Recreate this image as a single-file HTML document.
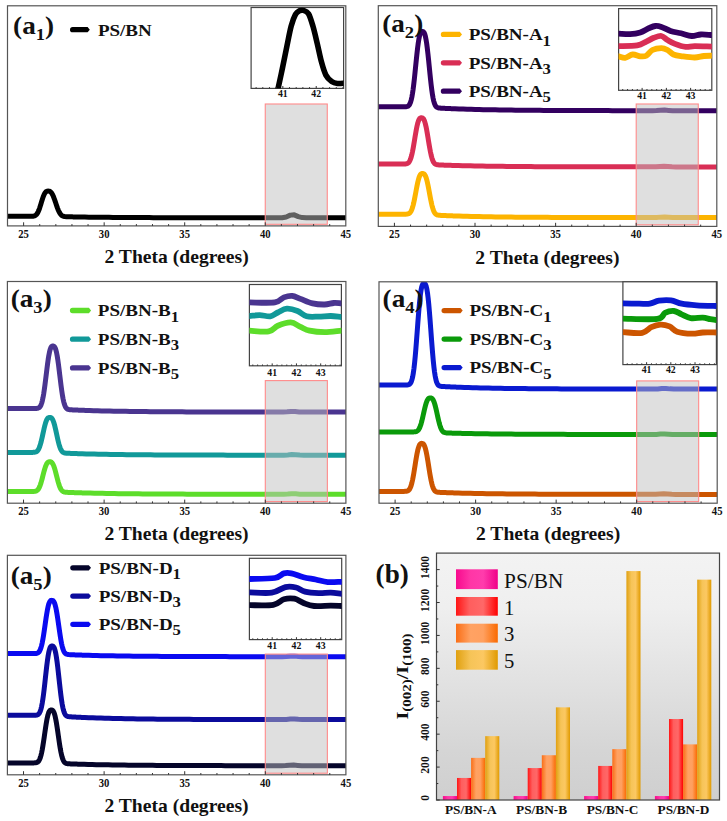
<!DOCTYPE html><html><head><meta charset="utf-8"><style>html,body{margin:0;padding:0;background:#fff;overflow:hidden;}svg{display:block;}text{font-family:"Liberation Serif", serif;fill:#111;}</style></head><body>
<svg width="727" height="821" viewBox="0 0 727 821">
<defs>
<linearGradient id="bgb" x1="0" y1="0" x2="0" y2="1"><stop offset="0" stop-color="#f3f3f3"/><stop offset="0.22" stop-color="#efefef"/><stop offset="0.8" stop-color="#d5d5d5"/><stop offset="1" stop-color="#cfcfcf"/></linearGradient>
<linearGradient id="gpink" x1="0" y1="0" x2="1" y2="0"><stop offset="0" stop-color="#f80a8e"/><stop offset="0.35" stop-color="#ff36a6"/><stop offset="0.65" stop-color="#ff3cac"/><stop offset="1" stop-color="#f00088"/></linearGradient>
<linearGradient id="gred" x1="0" y1="0" x2="1" y2="0"><stop offset="0" stop-color="#ff1515"/><stop offset="0.32" stop-color="#ff5e5e"/><stop offset="0.65" stop-color="#ff6868"/><stop offset="1" stop-color="#ff0000"/></linearGradient>
<linearGradient id="gorg" x1="0" y1="0" x2="1" y2="0"><stop offset="0" stop-color="#fa6e16"/><stop offset="0.35" stop-color="#ffa263"/><stop offset="0.65" stop-color="#ffa060"/><stop offset="1" stop-color="#fa6a00"/></linearGradient>
<linearGradient id="ggold" x1="0" y1="0" x2="1" y2="0"><stop offset="0" stop-color="#e0a010"/><stop offset="0.35" stop-color="#f6c458"/><stop offset="0.65" stop-color="#fcc862"/><stop offset="1" stop-color="#e09a00"/></linearGradient>
</defs>
<clipPath id="clip_a1"><rect x="7.50" y="5.80" width="338.30" height="220.10"/></clipPath>
<path clip-path="url(#clip_a1)" d="M4.28,216.30 L8.31,216.30 L12.33,216.30 L16.36,216.30 L17.00,216.30 L17.65,216.30 L18.29,216.30 L18.94,216.30 L19.58,216.30 L20.23,216.30 L20.87,216.30 L21.52,216.30 L22.16,216.30 L22.80,216.30 L23.45,216.30 L24.09,216.30 L24.74,216.30 L25.38,216.30 L26.03,216.30 L26.67,216.30 L27.31,216.30 L27.96,216.30 L28.60,216.30 L29.25,216.30 L29.89,216.30 L30.54,216.29 L31.18,216.28 L31.83,216.26 L32.47,216.23 L33.11,216.16 L33.76,216.06 L34.40,215.88 L35.05,215.61 L35.69,215.21 L36.34,214.64 L36.98,213.86 L37.62,212.85 L38.27,211.58 L38.91,210.05 L39.56,208.29 L40.20,206.33 L40.85,204.23 L41.49,202.09 L42.14,199.98 L42.78,197.98 L43.42,196.18 L44.07,194.62 L44.71,193.36 L45.36,192.41 L46.00,191.74 L46.65,191.34 L47.29,191.15 L47.93,191.10 L48.58,191.11 L49.22,191.19 L49.87,191.42 L50.51,191.83 L51.16,192.45 L51.80,193.31 L52.45,194.41 L53.09,195.74 L53.73,197.29 L54.38,199.02 L55.02,200.87 L55.67,202.79 L56.31,204.72 L56.96,206.60 L57.60,208.37 L58.24,209.99 L58.89,211.42 L59.53,212.65 L60.18,213.68 L60.82,214.50 L61.47,215.15 L62.11,215.64 L62.76,215.99 L63.40,216.25 L64.04,216.43 L64.69,216.55 L65.33,216.63 L65.98,216.69 L66.62,216.72 L67.27,216.75 L67.91,216.77 L68.56,216.79 L69.20,216.80 L69.84,216.82 L70.49,216.83 L71.13,216.84 L71.78,216.86 L72.42,216.87 L73.07,216.88 L73.71,216.89 L74.35,216.91 L75.00,216.92 L75.64,216.93 L76.29,216.94 L76.93,216.95 L77.58,216.96 L78.22,216.97 L78.87,216.98 L79.51,217.00 L80.15,217.01 L80.80,217.02 L84.83,217.08 L88.85,217.14 L92.88,217.19 L96.91,217.24 L100.94,217.28 L104.96,217.33 L108.99,217.36 L113.02,217.40 L117.04,217.43 L121.07,217.46 L125.10,217.49 L129.13,217.51 L133.15,217.53 L137.18,217.56 L141.21,217.58 L145.24,217.59 L149.26,217.61 L153.29,217.63 L157.32,217.64 L161.35,217.65 L165.37,217.66 L169.40,217.67 L173.43,217.68 L177.46,217.69 L181.48,217.70 L185.51,217.71 L189.54,217.72 L193.56,217.72 L197.59,217.73 L201.62,217.74 L205.65,217.74 L209.67,217.75 L213.70,217.75 L217.73,217.75 L221.76,217.76 L225.78,217.76 L229.81,217.76 L233.84,217.77 L237.87,217.77 L241.89,217.77 L245.92,217.77 L249.95,217.78 L253.98,217.78 L258.00,217.78 L262.03,217.78 L266.06,217.78 L270.09,217.78 L274.11,217.79 L278.14,217.78 L282.17,217.69 L286.19,216.92 L290.22,215.13 L294.25,214.84 L298.28,216.61 L302.30,217.62 L306.33,217.78 L310.36,217.79 L314.39,217.79 L318.41,217.79 L322.44,217.79 L326.47,217.80 L330.50,217.80 L334.52,217.80 L338.55,217.80 L342.58,217.80 L346.61,217.80 L350.63,217.80" fill="none" stroke="#000" stroke-width="5.0" stroke-linejoin="round"/>
<rect x="265.25" y="104.00" width="62.02" height="120.30" fill="rgb(192,192,192)" fill-opacity="0.5" stroke="#ff8a8a" stroke-width="1.1"/>
<rect x="7.50" y="5.80" width="338.30" height="220.10" fill="none" stroke="#555" stroke-width="1.2"/>
<line x1="23.61" y1="225.90" x2="23.61" y2="222.30" stroke="#333" stroke-width="1"/>
<line x1="39.72" y1="225.90" x2="39.72" y2="224.10" stroke="#333" stroke-width="1"/>
<line x1="55.83" y1="225.90" x2="55.83" y2="224.10" stroke="#333" stroke-width="1"/>
<line x1="71.94" y1="225.90" x2="71.94" y2="224.10" stroke="#333" stroke-width="1"/>
<line x1="88.05" y1="225.90" x2="88.05" y2="224.10" stroke="#333" stroke-width="1"/>
<line x1="104.16" y1="225.90" x2="104.16" y2="222.30" stroke="#333" stroke-width="1"/>
<line x1="120.27" y1="225.90" x2="120.27" y2="224.10" stroke="#333" stroke-width="1"/>
<line x1="136.38" y1="225.90" x2="136.38" y2="224.10" stroke="#333" stroke-width="1"/>
<line x1="152.49" y1="225.90" x2="152.49" y2="224.10" stroke="#333" stroke-width="1"/>
<line x1="168.60" y1="225.90" x2="168.60" y2="224.10" stroke="#333" stroke-width="1"/>
<line x1="184.70" y1="225.90" x2="184.70" y2="222.30" stroke="#333" stroke-width="1"/>
<line x1="200.81" y1="225.90" x2="200.81" y2="224.10" stroke="#333" stroke-width="1"/>
<line x1="216.92" y1="225.90" x2="216.92" y2="224.10" stroke="#333" stroke-width="1"/>
<line x1="233.03" y1="225.90" x2="233.03" y2="224.10" stroke="#333" stroke-width="1"/>
<line x1="249.14" y1="225.90" x2="249.14" y2="224.10" stroke="#333" stroke-width="1"/>
<line x1="265.25" y1="225.90" x2="265.25" y2="222.30" stroke="#333" stroke-width="1"/>
<line x1="281.36" y1="225.90" x2="281.36" y2="224.10" stroke="#333" stroke-width="1"/>
<line x1="297.47" y1="225.90" x2="297.47" y2="224.10" stroke="#333" stroke-width="1"/>
<line x1="313.58" y1="225.90" x2="313.58" y2="224.10" stroke="#333" stroke-width="1"/>
<line x1="329.69" y1="225.90" x2="329.69" y2="224.10" stroke="#333" stroke-width="1"/>
<text transform="translate(23.61,237.70) scale(0.920,1)" font-size="11.60" font-weight="bold" text-anchor="middle">25</text>
<text transform="translate(104.16,237.70) scale(0.920,1)" font-size="11.60" font-weight="bold" text-anchor="middle">30</text>
<text transform="translate(184.70,237.70) scale(0.920,1)" font-size="11.60" font-weight="bold" text-anchor="middle">35</text>
<text transform="translate(265.25,237.70) scale(0.920,1)" font-size="11.60" font-weight="bold" text-anchor="middle">40</text>
<text transform="translate(345.80,237.70) scale(0.920,1)" font-size="11.60" font-weight="bold" text-anchor="middle">45</text>
<text transform="translate(104.50,263.00) scale(1.055,1)" font-size="18.60" font-weight="bold">2 Theta (degrees)</text>
<text transform="translate(13.10,34.27) scale(1.050,1)" font-size="25.90" font-weight="bold">(a<tspan font-size="17.7" dy="5.8">1</tspan><tspan dy="-5.8">)</tspan></text>
<path d="M72.65,27.05 L87.60,27.05 L89.80,29.70 L87.60,32.35 L72.65,32.35 A2.65,2.65 0 0 1 72.65,27.05 Z" fill="#000"/>
<text transform="translate(97.88,35.50) scale(1.075,1)" font-size="17.70" font-weight="bold">PS/BN</text>
<rect x="251.10" y="7.50" width="92.50" height="80.90" fill="#fff" stroke="#444" stroke-width="1.2"/>
<clipPath id="c1"><rect x="251.10" y="7.50" width="92.50" height="80.90"/></clipPath>
<g clip-path="url(#c1)">
<path d="M276.50,95.00 C276.78,93.80 277.20,92.32 278.20,87.80 C279.20,83.28 281.05,74.83 282.50,67.90 C283.95,60.97 285.45,53.18 286.90,46.20 C288.35,39.22 289.77,31.30 291.20,26.00 C292.63,20.70 294.12,16.93 295.50,14.40 C296.88,11.87 298.17,11.47 299.50,10.80 C300.83,10.13 302.00,9.92 303.50,10.40 C305.00,10.88 306.93,11.10 308.50,13.70 C310.07,16.30 311.45,21.07 312.90,26.00 C314.35,30.93 315.77,37.28 317.20,43.30 C318.63,49.32 320.05,56.80 321.50,62.10 C322.95,67.40 324.20,71.85 325.90,75.10 C327.60,78.35 329.78,80.20 331.70,81.60 C333.62,83.00 335.18,83.27 337.40,83.50 C339.62,83.73 343.73,83.08 345.00,83.00" fill="none" stroke="#000" stroke-width="5.6" stroke-linejoin="round" stroke-linecap="round"/>
</g>
<line x1="256.11" y1="88.40" x2="256.11" y2="87.10" stroke="#333" stroke-width="1"/>
<line x1="262.79" y1="88.40" x2="262.79" y2="87.10" stroke="#333" stroke-width="1"/>
<line x1="269.47" y1="88.40" x2="269.47" y2="87.10" stroke="#333" stroke-width="1"/>
<line x1="276.15" y1="88.40" x2="276.15" y2="87.10" stroke="#333" stroke-width="1"/>
<line x1="282.83" y1="88.40" x2="282.83" y2="86.00" stroke="#333" stroke-width="1"/>
<line x1="289.51" y1="88.40" x2="289.51" y2="87.10" stroke="#333" stroke-width="1"/>
<line x1="296.19" y1="88.40" x2="296.19" y2="87.10" stroke="#333" stroke-width="1"/>
<line x1="302.87" y1="88.40" x2="302.87" y2="87.10" stroke="#333" stroke-width="1"/>
<line x1="309.55" y1="88.40" x2="309.55" y2="87.10" stroke="#333" stroke-width="1"/>
<line x1="316.23" y1="88.40" x2="316.23" y2="86.00" stroke="#333" stroke-width="1"/>
<line x1="322.91" y1="88.40" x2="322.91" y2="87.10" stroke="#333" stroke-width="1"/>
<line x1="329.59" y1="88.40" x2="329.59" y2="87.10" stroke="#333" stroke-width="1"/>
<line x1="336.27" y1="88.40" x2="336.27" y2="87.10" stroke="#333" stroke-width="1"/>
<line x1="342.95" y1="88.40" x2="342.95" y2="87.10" stroke="#333" stroke-width="1"/>
<text transform="translate(282.83,97.40) scale(0.950,1)" font-size="10.30" font-weight="bold" text-anchor="middle">41</text>
<text transform="translate(316.23,97.40) scale(0.950,1)" font-size="10.30" font-weight="bold" text-anchor="middle">42</text>
<clipPath id="clip_a2"><rect x="378.30" y="5.70" width="338.50" height="220.70"/></clipPath>
<path clip-path="url(#clip_a2)" d="M375.08,214.20 L379.11,214.20 L383.14,214.20 L387.17,214.20 L391.20,214.20 L391.84,214.20 L392.48,214.20 L393.13,214.20 L393.77,214.20 L394.42,214.20 L395.06,214.20 L395.71,214.20 L396.35,214.20 L397.00,214.20 L397.64,214.20 L398.29,214.20 L398.93,214.20 L399.58,214.20 L400.22,214.20 L400.87,214.20 L401.51,214.20 L402.16,214.20 L402.80,214.20 L403.45,214.20 L404.09,214.20 L404.74,214.19 L405.38,214.18 L406.02,214.16 L406.67,214.12 L407.31,214.04 L407.96,213.90 L408.60,213.68 L409.25,213.33 L409.89,212.79 L410.54,212.01 L411.18,210.92 L411.83,209.47 L412.47,207.62 L413.12,205.35 L413.76,202.67 L414.41,199.64 L415.05,196.33 L415.70,192.88 L416.34,189.40 L416.99,186.05 L417.63,182.95 L418.28,180.22 L418.92,177.93 L419.56,176.13 L420.21,174.82 L420.85,174.01 L421.50,173.59 L422.14,173.45 L422.79,173.48 L423.43,173.60 L424.08,173.95 L424.72,174.64 L425.37,175.76 L426.01,177.36 L426.66,179.44 L427.30,182.00 L427.95,184.97 L428.59,188.25 L429.24,191.71 L429.88,195.23 L430.53,198.67 L431.17,201.88 L431.82,204.78 L432.46,207.30 L433.10,209.39 L433.75,211.07 L434.39,212.37 L435.04,213.33 L435.68,214.01 L436.33,214.49 L436.97,214.80 L437.62,215.01 L438.26,215.14 L438.91,215.23 L439.55,215.29 L440.20,215.34 L440.84,215.38 L441.49,215.41 L442.13,215.44 L442.78,215.47 L443.42,215.50 L444.07,215.52 L444.71,215.55 L445.36,215.58 L446.00,215.61 L446.64,215.63 L447.29,215.66 L447.93,215.68 L448.58,215.71 L449.22,215.73 L449.87,215.76 L450.51,215.78 L451.16,215.81 L451.80,215.83 L452.45,215.85 L453.09,215.88 L453.74,215.90 L454.38,215.92 L455.03,215.95 L459.06,216.08 L463.09,216.20 L467.12,216.31 L471.15,216.41 L475.18,216.51 L479.21,216.60 L483.23,216.68 L487.26,216.75 L491.29,216.82 L495.32,216.88 L499.35,216.94 L503.38,216.99 L507.41,217.04 L511.44,217.08 L515.47,217.13 L519.50,217.16 L523.53,217.20 L527.56,217.23 L531.59,217.26 L535.62,217.29 L539.65,217.31 L543.68,217.34 L547.71,217.36 L551.74,217.38 L555.77,217.39 L559.80,217.41 L563.83,217.43 L567.86,217.44 L571.89,217.45 L575.92,217.46 L579.95,217.48 L583.98,217.49 L588.01,217.49 L592.04,217.50 L596.07,217.51 L600.10,217.52 L604.13,217.52 L608.16,217.53 L612.19,217.54 L616.22,217.54 L620.25,217.55 L624.28,217.55 L628.31,217.55 L632.34,217.56 L636.37,217.56 L640.40,217.56 L644.43,217.57 L648.46,217.57 L652.48,217.56 L656.51,217.45 L660.54,217.13 L664.57,217.00 L668.60,217.31 L672.63,217.54 L676.66,217.58 L680.69,217.58 L684.72,217.59 L688.75,217.59 L692.78,217.59 L696.81,217.59 L700.84,217.59 L704.87,217.59 L708.90,217.59 L712.93,217.59 L716.96,217.59 L720.99,217.59" fill="none" stroke="#fdb400" stroke-width="5.0" stroke-linejoin="round"/>
<path clip-path="url(#clip_a2)" d="M375.08,164.00 L379.11,164.00 L383.14,164.00 L387.17,164.00 L391.20,164.00 L391.84,164.00 L392.48,164.00 L393.13,164.00 L393.77,164.00 L394.42,164.00 L395.06,164.00 L395.71,164.00 L396.35,164.00 L397.00,164.00 L397.64,164.00 L398.29,164.00 L398.93,164.00 L399.58,164.00 L400.22,164.00 L400.87,164.00 L401.51,164.00 L402.16,164.00 L402.80,164.00 L403.45,163.99 L404.09,163.98 L404.74,163.96 L405.38,163.92 L406.02,163.84 L406.67,163.71 L407.31,163.49 L407.96,163.13 L408.60,162.58 L409.25,161.77 L409.89,160.63 L410.54,159.10 L411.18,157.12 L411.83,154.67 L412.47,151.75 L413.12,148.41 L413.76,144.73 L414.41,140.85 L415.05,136.91 L415.70,133.06 L416.34,129.47 L416.99,126.27 L417.63,123.54 L418.28,121.37 L418.92,119.74 L419.56,118.65 L420.21,118.02 L420.85,117.79 L421.50,117.78 L422.14,117.86 L422.79,118.17 L423.43,118.84 L424.08,119.97 L424.72,121.62 L425.37,123.84 L426.01,126.59 L426.66,129.83 L427.30,133.46 L427.95,137.34 L428.59,141.31 L429.24,145.23 L429.88,148.93 L430.53,152.30 L431.17,155.25 L431.82,157.74 L432.46,159.75 L433.10,161.31 L433.75,162.48 L434.39,163.31 L435.04,163.89 L435.68,164.28 L436.33,164.53 L436.97,164.69 L437.62,164.80 L438.26,164.86 L438.91,164.91 L439.55,164.95 L440.20,164.98 L440.84,165.01 L441.49,165.03 L442.13,165.06 L442.78,165.08 L443.42,165.11 L444.07,165.13 L444.71,165.15 L445.36,165.18 L446.00,165.20 L446.64,165.22 L447.29,165.24 L447.93,165.27 L448.58,165.29 L449.22,165.31 L449.87,165.33 L450.51,165.35 L451.16,165.37 L451.80,165.39 L452.45,165.41 L453.09,165.43 L453.74,165.45 L454.38,165.47 L458.41,165.58 L462.44,165.69 L466.47,165.79 L470.50,165.87 L474.53,165.96 L478.56,166.03 L482.59,166.10 L486.62,166.17 L490.65,166.22 L494.68,166.28 L498.71,166.33 L502.74,166.37 L506.77,166.42 L510.80,166.45 L514.83,166.49 L518.86,166.52 L522.89,166.55 L526.92,166.58 L530.95,166.61 L534.98,166.63 L539.01,166.65 L543.04,166.67 L547.07,166.69 L551.10,166.71 L555.13,166.72 L559.16,166.74 L563.19,166.75 L567.22,166.76 L571.24,166.77 L575.27,166.78 L579.30,166.79 L583.33,166.80 L587.36,166.81 L591.39,166.82 L595.42,166.82 L599.45,166.83 L603.48,166.83 L607.51,166.84 L611.54,166.84 L615.57,166.85 L619.60,166.85 L623.63,166.86 L627.66,166.86 L631.69,166.86 L635.72,166.87 L639.75,166.87 L643.78,166.87 L647.81,166.87 L651.84,166.87 L655.87,166.79 L659.90,166.49 L663.93,166.28 L667.96,166.55 L671.99,166.82 L676.02,166.88 L680.05,166.89 L684.08,166.89 L688.11,166.89 L692.14,166.89 L696.17,166.89 L700.20,166.89 L704.23,166.89 L708.26,166.89 L712.29,166.89 L716.32,166.89 L720.35,166.89" fill="none" stroke="#d92e55" stroke-width="5.0" stroke-linejoin="round"/>
<path clip-path="url(#clip_a2)" d="M375.08,106.80 L379.11,106.80 L383.14,106.80 L387.17,106.80 L391.20,106.80 L391.84,106.80 L392.48,106.80 L393.13,106.80 L393.77,106.80 L394.42,106.80 L395.06,106.80 L395.71,106.80 L396.35,106.80 L397.00,106.80 L397.64,106.80 L398.29,106.80 L398.93,106.80 L399.58,106.80 L400.22,106.80 L400.87,106.80 L401.51,106.80 L402.16,106.80 L402.80,106.80 L403.45,106.80 L404.09,106.79 L404.74,106.78 L405.38,106.76 L406.02,106.71 L406.67,106.62 L407.31,106.45 L407.96,106.17 L408.60,105.70 L409.25,104.97 L409.89,103.88 L410.54,102.31 L411.18,100.14 L411.83,97.29 L412.47,93.68 L413.12,89.29 L413.76,84.17 L414.41,78.43 L415.05,72.24 L415.70,65.83 L416.34,59.45 L416.99,53.36 L417.63,47.79 L418.28,42.94 L418.92,38.94 L419.56,35.84 L420.21,33.64 L420.85,32.30 L421.50,31.64 L422.14,31.47 L422.79,31.51 L423.43,31.79 L424.08,32.55 L424.72,33.99 L425.37,36.24 L426.01,39.38 L426.66,43.43 L427.30,48.32 L427.95,53.93 L428.59,60.07 L429.24,66.50 L429.88,72.95 L430.53,79.18 L431.17,84.96 L431.82,90.12 L432.46,94.55 L433.10,98.20 L433.75,101.09 L434.39,103.30 L435.04,104.91 L435.68,106.04 L436.33,106.81 L436.97,107.31 L437.62,107.63 L438.26,107.83 L438.91,107.96 L439.55,108.04 L440.20,108.10 L440.84,108.15 L441.49,108.18 L442.13,108.22 L442.78,108.25 L443.42,108.29 L444.07,108.32 L444.71,108.35 L445.36,108.38 L446.00,108.41 L446.64,108.44 L447.29,108.47 L447.93,108.50 L448.58,108.53 L449.22,108.56 L449.87,108.59 L450.51,108.62 L451.16,108.64 L451.80,108.67 L452.45,108.70 L453.09,108.72 L453.74,108.75 L454.38,108.78 L455.03,108.80 L459.06,108.95 L463.09,109.09 L467.12,109.22 L471.15,109.34 L475.18,109.45 L479.21,109.55 L483.23,109.64 L487.26,109.73 L491.29,109.80 L495.32,109.87 L499.35,109.94 L503.38,110.00 L507.41,110.06 L511.44,110.11 L515.47,110.16 L519.50,110.20 L523.53,110.24 L527.56,110.28 L531.59,110.31 L535.62,110.34 L539.65,110.37 L543.68,110.40 L547.71,110.42 L551.74,110.44 L555.77,110.46 L559.80,110.48 L563.83,110.50 L567.86,110.52 L571.89,110.53 L575.92,110.54 L579.95,110.56 L583.98,110.57 L588.01,110.58 L592.04,110.59 L596.07,110.60 L600.10,110.61 L604.13,110.61 L608.16,110.62 L612.19,110.63 L616.22,110.63 L620.25,110.64 L624.28,110.64 L628.31,110.65 L632.34,110.65 L636.37,110.66 L640.40,110.66 L644.43,110.66 L648.46,110.66 L652.48,110.66 L656.51,110.55 L660.54,110.23 L664.57,110.09 L668.60,110.40 L672.63,110.63 L676.66,110.68 L680.69,110.68 L684.72,110.68 L688.75,110.68 L692.78,110.69 L696.81,110.69 L700.84,110.69 L704.87,110.69 L708.90,110.69 L712.93,110.69 L716.96,110.69 L720.99,110.69" fill="none" stroke="#330060" stroke-width="5.0" stroke-linejoin="round"/>
<rect x="636.20" y="104.00" width="62.06" height="120.80" fill="rgb(192,192,192)" fill-opacity="0.5" stroke="#ff8a8a" stroke-width="1.1"/>
<rect x="378.30" y="5.70" width="338.50" height="220.70" fill="none" stroke="#555" stroke-width="1.2"/>
<line x1="394.42" y1="226.40" x2="394.42" y2="222.80" stroke="#333" stroke-width="1"/>
<line x1="410.54" y1="226.40" x2="410.54" y2="224.60" stroke="#333" stroke-width="1"/>
<line x1="426.66" y1="226.40" x2="426.66" y2="224.60" stroke="#333" stroke-width="1"/>
<line x1="442.78" y1="226.40" x2="442.78" y2="224.60" stroke="#333" stroke-width="1"/>
<line x1="458.90" y1="226.40" x2="458.90" y2="224.60" stroke="#333" stroke-width="1"/>
<line x1="475.01" y1="226.40" x2="475.01" y2="222.80" stroke="#333" stroke-width="1"/>
<line x1="491.13" y1="226.40" x2="491.13" y2="224.60" stroke="#333" stroke-width="1"/>
<line x1="507.25" y1="226.40" x2="507.25" y2="224.60" stroke="#333" stroke-width="1"/>
<line x1="523.37" y1="226.40" x2="523.37" y2="224.60" stroke="#333" stroke-width="1"/>
<line x1="539.49" y1="226.40" x2="539.49" y2="224.60" stroke="#333" stroke-width="1"/>
<line x1="555.61" y1="226.40" x2="555.61" y2="222.80" stroke="#333" stroke-width="1"/>
<line x1="571.73" y1="226.40" x2="571.73" y2="224.60" stroke="#333" stroke-width="1"/>
<line x1="587.85" y1="226.40" x2="587.85" y2="224.60" stroke="#333" stroke-width="1"/>
<line x1="603.97" y1="226.40" x2="603.97" y2="224.60" stroke="#333" stroke-width="1"/>
<line x1="620.09" y1="226.40" x2="620.09" y2="224.60" stroke="#333" stroke-width="1"/>
<line x1="636.20" y1="226.40" x2="636.20" y2="222.80" stroke="#333" stroke-width="1"/>
<line x1="652.32" y1="226.40" x2="652.32" y2="224.60" stroke="#333" stroke-width="1"/>
<line x1="668.44" y1="226.40" x2="668.44" y2="224.60" stroke="#333" stroke-width="1"/>
<line x1="684.56" y1="226.40" x2="684.56" y2="224.60" stroke="#333" stroke-width="1"/>
<line x1="700.68" y1="226.40" x2="700.68" y2="224.60" stroke="#333" stroke-width="1"/>
<text transform="translate(394.42,238.20) scale(0.920,1)" font-size="11.60" font-weight="bold" text-anchor="middle">25</text>
<text transform="translate(475.01,238.20) scale(0.920,1)" font-size="11.60" font-weight="bold" text-anchor="middle">30</text>
<text transform="translate(555.61,238.20) scale(0.920,1)" font-size="11.60" font-weight="bold" text-anchor="middle">35</text>
<text transform="translate(636.20,238.20) scale(0.920,1)" font-size="11.60" font-weight="bold" text-anchor="middle">40</text>
<text transform="translate(716.80,238.20) scale(0.920,1)" font-size="11.60" font-weight="bold" text-anchor="middle">45</text>
<text transform="translate(475.30,263.50) scale(1.055,1)" font-size="18.60" font-weight="bold">2 Theta (degrees)</text>
<text transform="translate(382.20,32.07) scale(1.050,1)" font-size="25.90" font-weight="bold">(a<tspan font-size="17.7" dy="5.8">2</tspan><tspan dy="-5.8">)</tspan></text>
<path d="M443.45,31.75 L459.80,31.75 L462.00,34.40 L459.80,37.05 L443.45,37.05 A2.65,2.65 0 0 1 443.45,31.75 Z" fill="#fdb400"/>
<text transform="translate(468.68,40.20) scale(1.075,1)" font-size="17.70" font-weight="bold">PS/BN-A<tspan font-size="15.5" dy="5.3">1</tspan></text>
<path d="M443.45,60.15 L459.80,60.15 L462.00,62.80 L459.80,65.45 L443.45,65.45 A2.65,2.65 0 0 1 443.45,60.15 Z" fill="#d92e55"/>
<text transform="translate(468.68,68.60) scale(1.075,1)" font-size="17.70" font-weight="bold">PS/BN-A<tspan font-size="15.5" dy="5.3">3</tspan></text>
<path d="M443.45,88.55 L459.80,88.55 L462.00,91.20 L459.80,93.85 L443.45,93.85 A2.65,2.65 0 0 1 443.45,88.55 Z" fill="#330060"/>
<text transform="translate(468.68,97.00) scale(1.075,1)" font-size="17.70" font-weight="bold">PS/BN-A<tspan font-size="15.5" dy="5.3">5</tspan></text>
<rect x="618.60" y="8.60" width="93.20" height="81.70" fill="#fff" stroke="#444" stroke-width="1.2"/>
<clipPath id="c2"><rect x="618.60" y="8.60" width="93.20" height="81.70"/></clipPath>
<g clip-path="url(#c2)">
<path d="M615.00,56.30 C615.60,56.30 616.92,56.05 618.60,56.30 C620.28,56.55 622.75,58.10 625.10,57.80 C627.45,57.50 630.17,54.75 632.70,54.50 C635.23,54.25 638.03,56.10 640.30,56.30 C642.57,56.50 644.28,56.75 646.30,55.70 C648.32,54.65 649.88,51.27 652.40,50.00 C654.92,48.73 658.88,48.10 661.40,48.10 C663.92,48.10 665.48,48.93 667.50,50.00 C669.52,51.07 670.98,53.45 673.50,54.50 C676.02,55.55 679.07,55.80 682.60,56.30 C686.13,56.80 691.17,57.55 694.70,57.50 C698.23,57.45 700.95,56.30 703.80,56.00 C706.65,55.70 709.93,55.75 711.80,55.70 C713.67,55.65 714.47,55.70 715.00,55.70" fill="none" stroke="#fdb400" stroke-width="5.8" stroke-linejoin="round" stroke-linecap="round"/>
<path d="M615.00,46.10 C615.60,46.10 614.90,46.22 618.60,46.10 C622.30,45.98 632.58,46.15 637.20,45.40 C641.82,44.65 643.52,42.87 646.30,41.60 C649.08,40.33 651.38,38.73 653.90,37.80 C656.42,36.87 659.13,35.63 661.40,36.00 C663.67,36.37 665.23,38.68 667.50,40.00 C669.77,41.32 671.98,42.75 675.00,43.90 C678.02,45.05 682.32,46.53 685.60,46.90 C688.88,47.27 690.33,46.15 694.70,46.10 C699.07,46.05 708.42,46.52 711.80,46.60 C715.18,46.68 714.47,46.60 715.00,46.60" fill="none" stroke="#d92e55" stroke-width="5.8" stroke-linejoin="round" stroke-linecap="round"/>
<path d="M615.00,33.60 C615.60,33.60 616.10,33.50 618.60,33.60 C621.10,33.70 626.38,34.38 630.00,34.20 C633.62,34.02 637.08,33.53 640.30,32.50 C643.52,31.47 646.78,29.08 649.30,28.00 C651.82,26.92 653.38,26.18 655.40,26.00 C657.42,25.82 658.88,26.07 661.40,26.90 C663.92,27.73 667.23,29.93 670.50,31.00 C673.77,32.07 677.47,32.47 681.00,33.30 C684.53,34.13 688.40,35.80 691.70,36.00 C695.00,36.20 697.45,34.67 700.80,34.50 C704.15,34.33 709.43,34.92 711.80,35.00 C714.17,35.08 714.47,35.00 715.00,35.00" fill="none" stroke="#330060" stroke-width="5.8" stroke-linejoin="round" stroke-linecap="round"/>
</g>
<line x1="622.72" y1="90.30" x2="622.72" y2="89.00" stroke="#333" stroke-width="1"/>
<line x1="627.57" y1="90.30" x2="627.57" y2="89.00" stroke="#333" stroke-width="1"/>
<line x1="632.42" y1="90.30" x2="632.42" y2="89.00" stroke="#333" stroke-width="1"/>
<line x1="637.27" y1="90.30" x2="637.27" y2="89.00" stroke="#333" stroke-width="1"/>
<line x1="642.12" y1="90.30" x2="642.12" y2="87.90" stroke="#333" stroke-width="1"/>
<line x1="646.97" y1="90.30" x2="646.97" y2="89.00" stroke="#333" stroke-width="1"/>
<line x1="651.82" y1="90.30" x2="651.82" y2="89.00" stroke="#333" stroke-width="1"/>
<line x1="656.67" y1="90.30" x2="656.67" y2="89.00" stroke="#333" stroke-width="1"/>
<line x1="661.52" y1="90.30" x2="661.52" y2="89.00" stroke="#333" stroke-width="1"/>
<line x1="666.37" y1="90.30" x2="666.37" y2="87.90" stroke="#333" stroke-width="1"/>
<line x1="671.22" y1="90.30" x2="671.22" y2="89.00" stroke="#333" stroke-width="1"/>
<line x1="676.07" y1="90.30" x2="676.07" y2="89.00" stroke="#333" stroke-width="1"/>
<line x1="680.92" y1="90.30" x2="680.92" y2="89.00" stroke="#333" stroke-width="1"/>
<line x1="685.77" y1="90.30" x2="685.77" y2="89.00" stroke="#333" stroke-width="1"/>
<line x1="690.62" y1="90.30" x2="690.62" y2="87.90" stroke="#333" stroke-width="1"/>
<line x1="695.47" y1="90.30" x2="695.47" y2="89.00" stroke="#333" stroke-width="1"/>
<line x1="700.32" y1="90.30" x2="700.32" y2="89.00" stroke="#333" stroke-width="1"/>
<line x1="705.17" y1="90.30" x2="705.17" y2="89.00" stroke="#333" stroke-width="1"/>
<line x1="710.02" y1="90.30" x2="710.02" y2="89.00" stroke="#333" stroke-width="1"/>
<text transform="translate(642.12,99.10) scale(0.950,1)" font-size="10.30" font-weight="bold" text-anchor="middle">41</text>
<text transform="translate(666.37,99.10) scale(0.950,1)" font-size="10.30" font-weight="bold" text-anchor="middle">42</text>
<text transform="translate(690.62,99.10) scale(0.950,1)" font-size="10.30" font-weight="bold" text-anchor="middle">43</text>
<clipPath id="clip_a3"><rect x="7.40" y="281.50" width="338.50" height="221.70"/></clipPath>
<path clip-path="url(#clip_a3)" d="M4.18,491.50 L8.21,491.50 L12.24,491.50 L16.27,491.50 L20.30,491.50 L20.94,491.50 L21.58,491.50 L22.23,491.50 L22.87,491.50 L23.52,491.50 L24.16,491.50 L24.81,491.50 L25.45,491.50 L26.10,491.50 L26.74,491.50 L27.39,491.50 L28.03,491.50 L28.68,491.50 L29.32,491.50 L29.97,491.50 L30.61,491.50 L31.26,491.50 L31.90,491.49 L32.55,491.49 L33.19,491.47 L33.84,491.44 L34.48,491.38 L35.12,491.28 L35.77,491.12 L36.41,490.86 L37.06,490.47 L37.70,489.90 L38.35,489.11 L38.99,488.05 L39.64,486.70 L40.28,485.05 L40.93,483.10 L41.57,480.89 L42.22,478.48 L42.86,475.97 L43.51,473.43 L44.15,470.99 L44.80,468.73 L45.44,466.74 L46.09,465.08 L46.73,463.76 L47.38,462.81 L48.02,462.19 L48.66,461.84 L49.31,461.71 L49.95,461.74 L50.60,461.83 L51.24,462.09 L51.89,462.60 L52.53,463.42 L53.18,464.59 L53.82,466.12 L54.47,467.98 L55.11,470.15 L55.76,472.54 L56.40,475.08 L57.05,477.65 L57.69,480.15 L58.34,482.50 L58.98,484.62 L59.63,486.45 L60.27,487.99 L60.92,489.21 L61.56,490.16 L62.20,490.87 L62.85,491.37 L63.49,491.72 L64.14,491.95 L64.78,492.11 L65.43,492.21 L66.07,492.28 L66.72,492.33 L67.36,492.36 L68.01,492.39 L68.65,492.42 L69.30,492.45 L69.94,492.47 L70.59,492.50 L71.23,492.52 L71.88,492.54 L72.52,492.57 L73.17,492.59 L73.81,492.61 L74.46,492.64 L75.10,492.66 L75.74,492.68 L76.39,492.70 L77.03,492.72 L77.68,492.74 L78.32,492.76 L78.97,492.78 L79.61,492.80 L80.26,492.82 L80.90,492.84 L81.55,492.86 L82.19,492.88 L86.22,492.99 L90.25,493.10 L94.28,493.20 L98.31,493.28 L102.34,493.36 L106.37,493.44 L110.40,493.51 L114.43,493.57 L118.46,493.63 L122.49,493.68 L126.52,493.73 L130.55,493.78 L134.58,493.82 L138.61,493.86 L142.64,493.89 L146.67,493.93 L150.70,493.96 L154.73,493.98 L158.76,494.01 L162.79,494.03 L166.82,494.05 L170.85,494.07 L174.88,494.09 L178.91,494.11 L182.94,494.12 L186.97,494.14 L191.00,494.15 L195.03,494.16 L199.06,494.17 L203.09,494.18 L207.11,494.19 L211.14,494.20 L215.17,494.21 L219.20,494.22 L223.23,494.22 L227.26,494.23 L231.29,494.24 L235.32,494.24 L239.35,494.24 L243.38,494.25 L247.41,494.25 L251.44,494.26 L255.47,494.26 L259.50,494.26 L263.53,494.27 L267.56,494.27 L271.59,494.27 L275.62,494.27 L279.65,494.27 L283.68,494.23 L287.71,494.01 L291.74,493.70 L295.77,493.84 L299.80,494.16 L303.83,494.27 L307.86,494.29 L311.89,494.29 L315.92,494.29 L319.95,494.29 L323.98,494.29 L328.01,494.29 L332.04,494.29 L336.07,494.29 L340.10,494.29 L344.13,494.29 L348.16,494.29" fill="none" stroke="#5ddd2a" stroke-width="5.0" stroke-linejoin="round"/>
<path clip-path="url(#clip_a3)" d="M4.18,452.40 L8.21,452.40 L12.24,452.40 L16.27,452.40 L20.30,452.40 L20.94,452.40 L21.58,452.40 L22.23,452.40 L22.87,452.40 L23.52,452.40 L24.16,452.40 L24.81,452.40 L25.45,452.40 L26.10,452.40 L26.74,452.40 L27.39,452.40 L28.03,452.40 L28.68,452.40 L29.32,452.40 L29.97,452.40 L30.61,452.40 L31.26,452.40 L31.90,452.39 L32.55,452.38 L33.19,452.36 L33.84,452.33 L34.48,452.26 L35.12,452.15 L35.77,451.96 L36.41,451.65 L37.06,451.19 L37.70,450.52 L38.35,449.59 L38.99,448.35 L39.64,446.77 L40.28,444.82 L40.93,442.53 L41.57,439.94 L42.22,437.11 L42.86,434.15 L43.51,431.18 L44.15,428.31 L44.80,425.66 L45.44,423.32 L46.09,421.37 L46.73,419.82 L47.38,418.70 L48.02,417.97 L48.66,417.57 L49.31,417.42 L49.95,417.44 L50.60,417.54 L51.24,417.84 L51.89,418.44 L52.53,419.39 L53.18,420.76 L53.82,422.54 L54.47,424.73 L55.11,427.27 L55.76,430.08 L56.40,433.04 L57.05,436.06 L57.69,438.99 L58.34,441.75 L58.98,444.23 L59.63,446.38 L60.27,448.17 L60.92,449.61 L61.56,450.72 L62.20,451.54 L62.85,452.13 L63.49,452.53 L64.14,452.80 L64.78,452.98 L65.43,453.09 L66.07,453.17 L66.72,453.22 L67.36,453.26 L68.01,453.29 L68.65,453.32 L69.30,453.35 L69.94,453.37 L70.59,453.40 L71.23,453.42 L71.88,453.44 L72.52,453.47 L73.17,453.49 L73.81,453.51 L74.46,453.54 L75.10,453.56 L75.74,453.58 L76.39,453.60 L77.03,453.62 L77.68,453.64 L78.32,453.66 L78.97,453.68 L79.61,453.70 L80.26,453.72 L80.90,453.74 L81.55,453.76 L82.19,453.78 L86.22,453.89 L90.25,454.00 L94.28,454.10 L98.31,454.18 L102.34,454.26 L106.37,454.34 L110.40,454.41 L114.43,454.47 L118.46,454.53 L122.49,454.58 L126.52,454.63 L130.55,454.68 L134.58,454.72 L138.61,454.76 L142.64,454.79 L146.67,454.83 L150.70,454.86 L154.73,454.88 L158.76,454.91 L162.79,454.93 L166.82,454.95 L170.85,454.97 L174.88,454.99 L178.91,455.01 L182.94,455.02 L186.97,455.04 L191.00,455.05 L195.03,455.06 L199.06,455.07 L203.09,455.08 L207.11,455.09 L211.14,455.10 L215.17,455.11 L219.20,455.12 L223.23,455.12 L227.26,455.13 L231.29,455.14 L235.32,455.14 L239.35,455.14 L243.38,455.15 L247.41,455.15 L251.44,455.16 L255.47,455.16 L259.50,455.16 L263.53,455.17 L267.56,455.17 L271.59,455.17 L275.62,455.17 L279.65,455.17 L283.68,455.13 L287.71,454.91 L291.74,454.60 L295.77,454.74 L299.80,455.06 L303.83,455.17 L307.86,455.19 L311.89,455.19 L315.92,455.19 L319.95,455.19 L323.98,455.19 L328.01,455.19 L332.04,455.19 L336.07,455.19 L340.10,455.19 L344.13,455.19 L348.16,455.19" fill="none" stroke="#119999" stroke-width="5.0" stroke-linejoin="round"/>
<path clip-path="url(#clip_a3)" d="M4.18,408.50 L8.21,408.50 L12.24,408.50 L16.27,408.50 L20.30,408.50 L24.33,408.50 L24.97,408.50 L25.61,408.50 L26.26,408.50 L26.90,408.50 L27.55,408.50 L28.19,408.50 L28.84,408.50 L29.48,408.50 L30.13,408.50 L30.77,408.50 L31.42,408.50 L32.06,408.50 L32.71,408.50 L33.35,408.50 L34.00,408.50 L34.64,408.49 L35.29,408.48 L35.93,408.46 L36.58,408.42 L37.22,408.35 L37.86,408.21 L38.51,407.98 L39.15,407.59 L39.80,406.98 L40.44,406.07 L41.09,404.77 L41.73,402.97 L42.38,400.60 L43.02,397.60 L43.67,393.96 L44.31,389.71 L44.96,384.94 L45.60,379.80 L46.25,374.48 L46.89,369.18 L47.54,364.12 L48.18,359.50 L48.83,355.47 L49.47,352.16 L50.12,349.63 L50.76,347.85 L51.40,346.74 L52.05,346.20 L52.69,346.05 L53.34,346.10 L53.98,346.33 L54.63,346.97 L55.27,348.16 L55.92,350.03 L56.56,352.65 L57.21,356.01 L57.85,360.08 L58.50,364.74 L59.14,369.84 L59.79,375.18 L60.43,380.54 L61.08,385.72 L61.72,390.52 L62.37,394.81 L63.01,398.49 L63.66,401.52 L64.30,403.93 L64.94,405.76 L65.59,407.10 L66.23,408.05 L66.88,408.69 L67.52,409.11 L68.17,409.37 L68.81,409.54 L69.46,409.65 L70.10,409.72 L70.75,409.77 L71.39,409.81 L72.04,409.85 L72.68,409.88 L73.33,409.91 L73.97,409.94 L74.62,409.97 L75.26,410.00 L75.91,410.02 L76.55,410.05 L77.20,410.08 L77.84,410.10 L78.48,410.13 L79.13,410.16 L79.77,410.18 L80.42,410.21 L81.06,410.23 L81.71,410.26 L82.35,410.28 L83.00,410.31 L83.64,410.33 L84.29,410.35 L84.93,410.38 L85.58,410.40 L89.61,410.54 L93.64,410.66 L97.67,410.78 L101.70,410.88 L105.73,410.98 L109.76,411.07 L113.79,411.15 L117.82,411.23 L121.85,411.30 L125.87,411.36 L129.90,411.42 L133.93,411.47 L137.96,411.52 L141.99,411.57 L146.02,411.61 L150.05,411.65 L154.08,411.69 L158.11,411.72 L162.14,411.75 L166.17,411.78 L170.20,411.80 L174.23,411.83 L178.26,411.85 L182.29,411.87 L186.32,411.89 L190.35,411.91 L194.38,411.92 L198.41,411.94 L202.44,411.95 L206.47,411.96 L210.50,411.97 L214.53,411.98 L218.56,411.99 L222.59,412.00 L226.62,412.01 L230.65,412.02 L234.68,412.02 L238.71,412.03 L242.74,412.03 L246.77,412.04 L250.80,412.04 L254.83,412.05 L258.86,412.05 L262.89,412.06 L266.92,412.06 L270.95,412.06 L274.98,412.07 L279.01,412.07 L283.04,412.04 L287.07,411.85 L291.10,411.52 L295.12,411.58 L299.15,411.92 L303.18,412.06 L307.21,412.08 L311.24,412.08 L315.27,412.09 L319.30,412.09 L323.33,412.09 L327.36,412.09 L331.39,412.09 L335.42,412.09 L339.45,412.09 L343.48,412.09 L347.51,412.09" fill="none" stroke="#4a3590" stroke-width="5.0" stroke-linejoin="round"/>
<rect x="265.30" y="380.60" width="62.06" height="121.00" fill="rgb(192,192,192)" fill-opacity="0.5" stroke="#ff8a8a" stroke-width="1.1"/>
<rect x="7.40" y="281.50" width="338.50" height="221.70" fill="none" stroke="#555" stroke-width="1.2"/>
<line x1="23.52" y1="503.20" x2="23.52" y2="499.60" stroke="#333" stroke-width="1"/>
<line x1="39.64" y1="503.20" x2="39.64" y2="501.40" stroke="#333" stroke-width="1"/>
<line x1="55.76" y1="503.20" x2="55.76" y2="501.40" stroke="#333" stroke-width="1"/>
<line x1="71.88" y1="503.20" x2="71.88" y2="501.40" stroke="#333" stroke-width="1"/>
<line x1="88.00" y1="503.20" x2="88.00" y2="501.40" stroke="#333" stroke-width="1"/>
<line x1="104.11" y1="503.20" x2="104.11" y2="499.60" stroke="#333" stroke-width="1"/>
<line x1="120.23" y1="503.20" x2="120.23" y2="501.40" stroke="#333" stroke-width="1"/>
<line x1="136.35" y1="503.20" x2="136.35" y2="501.40" stroke="#333" stroke-width="1"/>
<line x1="152.47" y1="503.20" x2="152.47" y2="501.40" stroke="#333" stroke-width="1"/>
<line x1="168.59" y1="503.20" x2="168.59" y2="501.40" stroke="#333" stroke-width="1"/>
<line x1="184.71" y1="503.20" x2="184.71" y2="499.60" stroke="#333" stroke-width="1"/>
<line x1="200.83" y1="503.20" x2="200.83" y2="501.40" stroke="#333" stroke-width="1"/>
<line x1="216.95" y1="503.20" x2="216.95" y2="501.40" stroke="#333" stroke-width="1"/>
<line x1="233.07" y1="503.20" x2="233.07" y2="501.40" stroke="#333" stroke-width="1"/>
<line x1="249.19" y1="503.20" x2="249.19" y2="501.40" stroke="#333" stroke-width="1"/>
<line x1="265.30" y1="503.20" x2="265.30" y2="499.60" stroke="#333" stroke-width="1"/>
<line x1="281.42" y1="503.20" x2="281.42" y2="501.40" stroke="#333" stroke-width="1"/>
<line x1="297.54" y1="503.20" x2="297.54" y2="501.40" stroke="#333" stroke-width="1"/>
<line x1="313.66" y1="503.20" x2="313.66" y2="501.40" stroke="#333" stroke-width="1"/>
<line x1="329.78" y1="503.20" x2="329.78" y2="501.40" stroke="#333" stroke-width="1"/>
<text transform="translate(23.52,515.00) scale(0.920,1)" font-size="11.60" font-weight="bold" text-anchor="middle">25</text>
<text transform="translate(104.11,515.00) scale(0.920,1)" font-size="11.60" font-weight="bold" text-anchor="middle">30</text>
<text transform="translate(184.71,515.00) scale(0.920,1)" font-size="11.60" font-weight="bold" text-anchor="middle">35</text>
<text transform="translate(265.30,515.00) scale(0.920,1)" font-size="11.60" font-weight="bold" text-anchor="middle">40</text>
<text transform="translate(345.90,515.00) scale(0.920,1)" font-size="11.60" font-weight="bold" text-anchor="middle">45</text>
<text transform="translate(104.40,540.30) scale(1.055,1)" font-size="18.60" font-weight="bold">2 Theta (degrees)</text>
<text transform="translate(10.70,307.47) scale(1.050,1)" font-size="25.90" font-weight="bold">(a<tspan font-size="17.7" dy="5.8">3</tspan><tspan dy="-5.8">)</tspan></text>
<path d="M72.55,307.85 L88.90,307.85 L91.10,310.50 L88.90,313.15 L72.55,313.15 A2.65,2.65 0 0 1 72.55,307.85 Z" fill="#5ddd2a"/>
<text transform="translate(97.78,316.30) scale(1.075,1)" font-size="17.70" font-weight="bold">PS/BN-B<tspan font-size="15.5" dy="5.3">1</tspan></text>
<path d="M72.55,336.55 L88.90,336.55 L91.10,339.20 L88.90,341.85 L72.55,341.85 A2.65,2.65 0 0 1 72.55,336.55 Z" fill="#119999"/>
<text transform="translate(97.78,345.00) scale(1.075,1)" font-size="17.70" font-weight="bold">PS/BN-B<tspan font-size="15.5" dy="5.3">3</tspan></text>
<path d="M72.55,365.25 L88.90,365.25 L91.10,367.90 L88.90,370.55 L72.55,370.55 A2.65,2.65 0 0 1 72.55,365.25 Z" fill="#4a3590"/>
<text transform="translate(97.78,373.70) scale(1.075,1)" font-size="17.70" font-weight="bold">PS/BN-B<tspan font-size="15.5" dy="5.3">5</tspan></text>
<rect x="249.40" y="284.50" width="92.00" height="81.30" fill="#fff" stroke="#444" stroke-width="1.2"/>
<clipPath id="c3"><rect x="249.40" y="284.50" width="92.00" height="81.30"/></clipPath>
<g clip-path="url(#c3)">
<path d="M245.00,330.70 C245.73,330.70 245.45,330.58 249.40,330.70 C253.35,330.82 263.97,332.23 268.70,331.40 C273.43,330.57 274.13,327.20 277.80,325.70 C281.47,324.20 286.92,322.20 290.70,322.40 C294.48,322.60 297.35,325.52 300.50,326.90 C303.65,328.28 305.57,329.82 309.60,330.70 C313.63,331.58 319.40,332.20 324.70,332.20 C330.00,332.20 338.02,330.95 341.40,330.70 C344.78,330.45 344.40,330.70 345.00,330.70" fill="none" stroke="#5ddd2a" stroke-width="5.8" stroke-linejoin="round" stroke-linecap="round"/>
<path d="M245.00,316.00 C245.73,316.00 246.95,316.15 249.40,316.00 C251.85,315.85 256.22,315.05 259.70,315.10 C263.18,315.15 267.28,316.73 270.30,316.30 C273.32,315.87 275.03,313.77 277.80,312.50 C280.57,311.23 283.62,308.95 286.90,308.70 C290.18,308.45 294.22,309.73 297.50,311.00 C300.78,312.27 303.07,315.37 306.60,316.30 C310.13,317.23 314.67,316.65 318.70,316.60 C322.73,316.55 327.02,315.93 330.80,316.00 C334.58,316.07 339.03,316.83 341.40,317.00 C343.77,317.17 344.40,317.00 345.00,317.00" fill="none" stroke="#119999" stroke-width="5.8" stroke-linejoin="round" stroke-linecap="round"/>
<path d="M245.00,302.40 C245.73,302.40 244.43,302.40 249.40,302.40 C254.37,302.40 269.05,303.23 274.80,302.40 C280.55,301.57 281.00,298.48 283.90,297.40 C286.80,296.32 289.43,295.65 292.20,295.90 C294.97,296.15 297.10,297.65 300.50,298.90 C303.90,300.15 308.57,302.47 312.60,303.40 C316.63,304.33 321.17,304.57 324.70,304.50 C328.23,304.43 331.02,303.18 333.80,303.00 C336.58,302.82 339.53,303.33 341.40,303.40 C343.27,303.47 344.40,303.40 345.00,303.40" fill="none" stroke="#4a3590" stroke-width="5.8" stroke-linejoin="round" stroke-linecap="round"/>
</g>
<line x1="252.80" y1="365.80" x2="252.80" y2="364.50" stroke="#333" stroke-width="1"/>
<line x1="257.64" y1="365.80" x2="257.64" y2="364.50" stroke="#333" stroke-width="1"/>
<line x1="262.50" y1="365.80" x2="262.50" y2="364.50" stroke="#333" stroke-width="1"/>
<line x1="267.34" y1="365.80" x2="267.34" y2="364.50" stroke="#333" stroke-width="1"/>
<line x1="272.19" y1="365.80" x2="272.19" y2="363.40" stroke="#333" stroke-width="1"/>
<line x1="277.05" y1="365.80" x2="277.05" y2="364.50" stroke="#333" stroke-width="1"/>
<line x1="281.89" y1="365.80" x2="281.89" y2="364.50" stroke="#333" stroke-width="1"/>
<line x1="286.75" y1="365.80" x2="286.75" y2="364.50" stroke="#333" stroke-width="1"/>
<line x1="291.59" y1="365.80" x2="291.59" y2="364.50" stroke="#333" stroke-width="1"/>
<line x1="296.44" y1="365.80" x2="296.44" y2="363.40" stroke="#333" stroke-width="1"/>
<line x1="301.30" y1="365.80" x2="301.30" y2="364.50" stroke="#333" stroke-width="1"/>
<line x1="306.14" y1="365.80" x2="306.14" y2="364.50" stroke="#333" stroke-width="1"/>
<line x1="311.00" y1="365.80" x2="311.00" y2="364.50" stroke="#333" stroke-width="1"/>
<line x1="315.84" y1="365.80" x2="315.84" y2="364.50" stroke="#333" stroke-width="1"/>
<line x1="320.69" y1="365.80" x2="320.69" y2="363.40" stroke="#333" stroke-width="1"/>
<line x1="325.55" y1="365.80" x2="325.55" y2="364.50" stroke="#333" stroke-width="1"/>
<line x1="330.39" y1="365.80" x2="330.39" y2="364.50" stroke="#333" stroke-width="1"/>
<line x1="335.25" y1="365.80" x2="335.25" y2="364.50" stroke="#333" stroke-width="1"/>
<line x1="340.09" y1="365.80" x2="340.09" y2="364.50" stroke="#333" stroke-width="1"/>
<text transform="translate(272.19,375.50) scale(0.950,1)" font-size="10.30" font-weight="bold" text-anchor="middle">41</text>
<text transform="translate(296.44,375.50) scale(0.950,1)" font-size="10.30" font-weight="bold" text-anchor="middle">42</text>
<text transform="translate(320.69,375.50) scale(0.950,1)" font-size="10.30" font-weight="bold" text-anchor="middle">43</text>
<clipPath id="clip_a4"><rect x="379.00" y="281.80" width="338.20" height="221.40"/></clipPath>
<path clip-path="url(#clip_a4)" d="M375.78,491.40 L379.81,491.40 L383.83,491.40 L387.86,491.40 L391.88,491.40 L392.53,491.40 L393.17,491.40 L393.82,491.40 L394.46,491.40 L395.10,491.40 L395.75,491.40 L396.39,491.40 L397.04,491.40 L397.68,491.40 L398.33,491.40 L398.97,491.40 L399.61,491.40 L400.26,491.40 L400.90,491.40 L401.55,491.40 L402.19,491.40 L402.84,491.40 L403.48,491.39 L404.12,491.39 L404.77,491.37 L405.41,491.34 L406.06,491.28 L406.70,491.18 L407.34,491.00 L407.99,490.70 L408.63,490.24 L409.28,489.54 L409.92,488.54 L410.57,487.16 L411.21,485.34 L411.85,483.04 L412.50,480.24 L413.14,476.98 L413.79,473.33 L414.43,469.38 L415.07,465.30 L415.72,461.23 L416.36,457.35 L417.01,453.81 L417.65,450.72 L418.30,448.17 L418.94,446.19 L419.58,444.79 L420.23,443.91 L420.87,443.45 L421.52,443.35 L422.16,443.39 L422.80,443.57 L423.45,444.06 L424.09,444.98 L424.74,446.42 L425.38,448.43 L426.03,451.02 L426.67,454.15 L427.31,457.73 L427.96,461.64 L428.60,465.74 L429.25,469.86 L429.89,473.84 L430.54,477.53 L431.18,480.82 L431.82,483.65 L432.47,485.98 L433.11,487.83 L433.76,489.24 L434.40,490.27 L435.04,491.00 L435.69,491.49 L436.33,491.82 L436.98,492.03 L437.62,492.16 L438.27,492.25 L438.91,492.31 L439.55,492.35 L440.20,492.38 L440.84,492.41 L441.49,492.44 L442.13,492.47 L442.77,492.49 L443.42,492.52 L444.06,492.54 L444.71,492.57 L445.35,492.59 L446.00,492.62 L446.64,492.64 L447.28,492.66 L447.93,492.69 L448.57,492.71 L449.22,492.73 L449.86,492.75 L450.51,492.78 L451.15,492.80 L451.79,492.82 L452.44,492.84 L453.08,492.86 L453.73,492.88 L454.37,492.90 L458.40,493.02 L462.42,493.13 L466.45,493.23 L470.48,493.33 L474.50,493.41 L478.53,493.49 L482.55,493.56 L486.58,493.63 L490.61,493.69 L494.63,493.75 L498.66,493.80 L502.68,493.85 L506.71,493.89 L510.74,493.93 L514.76,493.97 L518.79,494.00 L522.82,494.04 L526.84,494.07 L530.87,494.09 L534.89,494.12 L538.92,494.14 L542.95,494.16 L546.97,494.18 L551.00,494.20 L555.03,494.21 L559.05,494.23 L563.08,494.24 L567.10,494.25 L571.13,494.27 L575.16,494.28 L579.18,494.29 L583.21,494.30 L587.23,494.30 L591.26,494.31 L595.29,494.32 L599.31,494.33 L603.34,494.33 L607.37,494.34 L611.39,494.34 L615.42,494.35 L619.44,494.35 L623.47,494.35 L627.50,494.36 L631.52,494.36 L635.55,494.36 L639.58,494.37 L643.60,494.37 L647.63,494.37 L651.65,494.37 L655.68,494.31 L659.71,494.05 L663.73,493.78 L667.76,493.99 L671.78,494.29 L675.81,494.38 L679.84,494.39 L683.86,494.39 L687.89,494.39 L691.92,494.39 L695.94,494.39 L699.97,494.39 L703.99,494.39 L708.02,494.39 L712.05,494.39 L716.07,494.39 L720.10,494.39" fill="none" stroke="#cc5500" stroke-width="5.0" stroke-linejoin="round"/>
<path clip-path="url(#clip_a4)" d="M375.78,431.90 L379.81,431.90 L383.83,431.90 L387.86,431.90 L391.88,431.90 L395.91,431.90 L399.94,431.90 L400.58,431.90 L401.22,431.90 L401.87,431.90 L402.51,431.90 L403.16,431.90 L403.80,431.90 L404.45,431.90 L405.09,431.90 L405.73,431.90 L406.38,431.90 L407.02,431.90 L407.67,431.90 L408.31,431.90 L408.95,431.90 L409.60,431.90 L410.24,431.90 L410.89,431.90 L411.53,431.90 L412.18,431.90 L412.82,431.89 L413.46,431.88 L414.11,431.85 L414.75,431.80 L415.40,431.72 L416.04,431.57 L416.69,431.33 L417.33,430.96 L417.97,430.41 L418.62,429.63 L419.26,428.57 L419.91,427.19 L420.55,425.45 L421.19,423.39 L421.84,421.01 L422.48,418.37 L423.13,415.55 L423.77,412.65 L424.42,409.80 L425.06,407.11 L425.70,404.68 L426.35,402.59 L426.99,400.90 L427.64,399.62 L428.28,398.74 L428.92,398.23 L429.57,398.00 L430.21,397.96 L430.86,398.00 L431.50,398.18 L432.15,398.60 L432.79,399.35 L433.43,400.48 L434.08,402.02 L434.72,403.97 L435.37,406.29 L436.01,408.93 L436.66,411.77 L437.30,414.72 L437.94,417.65 L438.59,420.45 L439.23,423.02 L439.88,425.30 L440.52,427.23 L441.16,428.81 L441.81,430.05 L442.45,430.99 L443.10,431.67 L443.74,432.15 L444.39,432.47 L445.03,432.67 L445.67,432.81 L446.32,432.89 L446.96,432.95 L447.61,432.99 L448.25,433.02 L448.89,433.04 L449.54,433.06 L450.18,433.08 L450.83,433.10 L451.47,433.12 L452.12,433.14 L452.76,433.16 L453.40,433.17 L454.05,433.19 L454.69,433.21 L455.34,433.23 L455.98,433.24 L456.62,433.26 L457.27,433.28 L457.91,433.29 L458.56,433.31 L459.20,433.32 L459.85,433.34 L460.49,433.35 L461.13,433.37 L461.78,433.39 L462.42,433.40 L463.07,433.41 L467.09,433.50 L471.12,433.58 L475.15,433.65 L479.17,433.72 L483.20,433.78 L487.22,433.84 L491.25,433.89 L495.28,433.94 L499.30,433.99 L503.33,434.03 L507.35,434.07 L511.38,434.10 L515.41,434.13 L519.43,434.16 L523.46,434.19 L527.49,434.21 L531.51,434.24 L535.54,434.26 L539.56,434.28 L543.59,434.29 L547.62,434.31 L551.64,434.33 L555.67,434.34 L559.70,434.35 L563.72,434.36 L567.75,434.38 L571.77,434.39 L575.80,434.39 L579.83,434.40 L583.85,434.41 L587.88,434.42 L591.90,434.42 L595.93,434.43 L599.96,434.44 L603.98,434.44 L608.01,434.45 L612.04,434.45 L616.06,434.45 L620.09,434.46 L624.11,434.46 L628.14,434.46 L632.17,434.47 L636.19,434.47 L640.22,434.47 L644.25,434.47 L648.27,434.48 L652.30,434.47 L656.32,434.39 L660.35,434.09 L664.38,433.89 L668.40,434.15 L672.43,434.42 L676.45,434.48 L680.48,434.49 L684.51,434.49 L688.53,434.49 L692.56,434.49 L696.59,434.49 L700.61,434.49 L704.64,434.49 L708.66,434.49 L712.69,434.49 L716.72,434.49 L720.74,434.49" fill="none" stroke="#0a9a0a" stroke-width="5.0" stroke-linejoin="round"/>
<path clip-path="url(#clip_a4)" d="M375.78,385.00 L379.81,385.00 L383.83,385.00 L387.86,385.00 L391.88,385.00 L395.91,385.00 L396.55,385.00 L397.20,385.00 L397.84,385.00 L398.49,385.00 L399.13,385.00 L399.78,385.00 L400.42,385.00 L401.06,385.00 L401.71,385.00 L402.35,385.00 L403.00,385.00 L403.64,385.00 L404.28,385.00 L404.93,385.00 L405.57,384.99 L406.22,384.98 L406.86,384.95 L407.51,384.90 L408.15,384.79 L408.79,384.60 L409.44,384.26 L410.08,383.71 L410.73,382.83 L411.37,381.48 L412.01,379.54 L412.66,376.83 L413.30,373.23 L413.95,368.62 L414.59,362.97 L415.24,356.30 L415.88,348.75 L416.52,340.53 L417.17,331.93 L417.81,323.28 L418.46,314.94 L419.10,307.23 L419.75,300.43 L420.39,294.74 L421.03,290.27 L421.68,287.06 L422.32,284.98 L422.97,283.87 L423.61,283.48 L424.25,283.48 L424.90,283.73 L425.54,284.55 L426.19,286.22 L426.83,288.95 L427.48,292.86 L428.12,298.01 L428.76,304.32 L429.41,311.65 L430.05,319.76 L430.70,328.35 L431.34,337.06 L431.98,345.55 L432.63,353.51 L433.27,360.68 L433.92,366.89 L434.56,372.07 L435.21,376.20 L435.85,379.38 L436.49,381.73 L437.14,383.39 L437.78,384.53 L438.43,385.27 L439.07,385.74 L439.71,386.03 L440.36,386.21 L441.00,386.33 L441.65,386.40 L442.29,386.45 L442.94,386.50 L443.58,386.54 L444.22,386.57 L444.87,386.60 L445.51,386.64 L446.16,386.67 L446.80,386.70 L447.45,386.73 L448.09,386.77 L448.73,386.80 L449.38,386.83 L450.02,386.86 L450.67,386.89 L451.31,386.92 L451.95,386.95 L452.60,386.97 L453.24,387.00 L453.89,387.03 L454.53,387.06 L455.18,387.08 L455.82,387.11 L456.46,387.14 L460.49,387.29 L464.52,387.44 L468.54,387.57 L472.57,387.69 L476.59,387.81 L480.62,387.91 L484.65,388.00 L488.67,388.09 L492.70,388.17 L496.73,388.25 L500.75,388.32 L504.78,388.38 L508.80,388.44 L512.83,388.49 L516.86,388.54 L520.88,388.58 L524.91,388.62 L528.94,388.66 L532.96,388.70 L536.99,388.73 L541.01,388.76 L545.04,388.79 L549.07,388.81 L553.09,388.83 L557.12,388.86 L561.14,388.88 L565.17,388.89 L569.20,388.91 L573.22,388.92 L577.25,388.94 L581.28,388.95 L585.30,388.96 L589.33,388.97 L593.35,388.98 L597.38,388.99 L601.41,389.00 L605.43,389.01 L609.46,389.02 L613.49,389.02 L617.51,389.03 L621.54,389.04 L625.56,389.04 L629.59,389.05 L633.62,389.05 L637.64,389.05 L641.67,389.06 L645.69,389.06 L649.72,389.06 L653.75,389.05 L657.77,388.90 L661.80,388.56 L665.83,388.53 L669.85,388.87 L673.88,389.05 L677.90,389.08 L681.93,389.08 L685.96,389.08 L689.98,389.08 L694.01,389.09 L698.04,389.09 L702.06,389.09 L706.09,389.09 L710.11,389.09 L714.14,389.09 L718.17,389.09" fill="none" stroke="#0a1ad0" stroke-width="5.0" stroke-linejoin="round"/>
<rect x="636.68" y="380.90" width="62.00" height="120.70" fill="rgb(192,192,192)" fill-opacity="0.5" stroke="#ff8a8a" stroke-width="1.1"/>
<rect x="379.00" y="281.80" width="338.20" height="221.40" fill="none" stroke="#555" stroke-width="1.2"/>
<line x1="395.10" y1="503.20" x2="395.10" y2="499.60" stroke="#333" stroke-width="1"/>
<line x1="411.21" y1="503.20" x2="411.21" y2="501.40" stroke="#333" stroke-width="1"/>
<line x1="427.31" y1="503.20" x2="427.31" y2="501.40" stroke="#333" stroke-width="1"/>
<line x1="443.42" y1="503.20" x2="443.42" y2="501.40" stroke="#333" stroke-width="1"/>
<line x1="459.52" y1="503.20" x2="459.52" y2="501.40" stroke="#333" stroke-width="1"/>
<line x1="475.63" y1="503.20" x2="475.63" y2="499.60" stroke="#333" stroke-width="1"/>
<line x1="491.73" y1="503.20" x2="491.73" y2="501.40" stroke="#333" stroke-width="1"/>
<line x1="507.84" y1="503.20" x2="507.84" y2="501.40" stroke="#333" stroke-width="1"/>
<line x1="523.94" y1="503.20" x2="523.94" y2="501.40" stroke="#333" stroke-width="1"/>
<line x1="540.05" y1="503.20" x2="540.05" y2="501.40" stroke="#333" stroke-width="1"/>
<line x1="556.15" y1="503.20" x2="556.15" y2="499.60" stroke="#333" stroke-width="1"/>
<line x1="572.26" y1="503.20" x2="572.26" y2="501.40" stroke="#333" stroke-width="1"/>
<line x1="588.36" y1="503.20" x2="588.36" y2="501.40" stroke="#333" stroke-width="1"/>
<line x1="604.47" y1="503.20" x2="604.47" y2="501.40" stroke="#333" stroke-width="1"/>
<line x1="620.57" y1="503.20" x2="620.57" y2="501.40" stroke="#333" stroke-width="1"/>
<line x1="636.68" y1="503.20" x2="636.68" y2="499.60" stroke="#333" stroke-width="1"/>
<line x1="652.78" y1="503.20" x2="652.78" y2="501.40" stroke="#333" stroke-width="1"/>
<line x1="668.89" y1="503.20" x2="668.89" y2="501.40" stroke="#333" stroke-width="1"/>
<line x1="684.99" y1="503.20" x2="684.99" y2="501.40" stroke="#333" stroke-width="1"/>
<line x1="701.10" y1="503.20" x2="701.10" y2="501.40" stroke="#333" stroke-width="1"/>
<text transform="translate(395.10,515.00) scale(0.920,1)" font-size="11.60" font-weight="bold" text-anchor="middle">25</text>
<text transform="translate(475.63,515.00) scale(0.920,1)" font-size="11.60" font-weight="bold" text-anchor="middle">30</text>
<text transform="translate(556.15,515.00) scale(0.920,1)" font-size="11.60" font-weight="bold" text-anchor="middle">35</text>
<text transform="translate(636.68,515.00) scale(0.920,1)" font-size="11.60" font-weight="bold" text-anchor="middle">40</text>
<text transform="translate(717.20,515.00) scale(0.920,1)" font-size="11.60" font-weight="bold" text-anchor="middle">45</text>
<text transform="translate(476.00,540.30) scale(1.055,1)" font-size="18.60" font-weight="bold">2 Theta (degrees)</text>
<text transform="translate(382.60,307.47) scale(1.050,1)" font-size="25.90" font-weight="bold">(a<tspan font-size="17.7" dy="5.8">4</tspan><tspan dy="-5.8">)</tspan></text>
<path d="M444.15,307.95 L460.50,307.95 L462.70,310.60 L460.50,313.25 L444.15,313.25 A2.65,2.65 0 0 1 444.15,307.95 Z" fill="#cc5500"/>
<text transform="translate(469.38,316.40) scale(1.075,1)" font-size="17.70" font-weight="bold">PS/BN-C<tspan font-size="15.5" dy="5.3">1</tspan></text>
<path d="M444.15,336.45 L460.50,336.45 L462.70,339.10 L460.50,341.75 L444.15,341.75 A2.65,2.65 0 0 1 444.15,336.45 Z" fill="#0a9a0a"/>
<text transform="translate(469.38,344.90) scale(1.075,1)" font-size="17.70" font-weight="bold">PS/BN-C<tspan font-size="15.5" dy="5.3">3</tspan></text>
<path d="M444.15,364.95 L460.50,364.95 L462.70,367.60 L460.50,370.25 L444.15,370.25 A2.65,2.65 0 0 1 444.15,364.95 Z" fill="#0a1ad0"/>
<text transform="translate(469.38,373.40) scale(1.075,1)" font-size="17.70" font-weight="bold">PS/BN-C<tspan font-size="15.5" dy="5.3">5</tspan></text>
<rect x="622.90" y="281.80" width="93.50" height="82.80" fill="#fff" stroke="#444" stroke-width="1.2"/>
<clipPath id="c4"><rect x="622.90" y="281.80" width="93.50" height="82.80"/></clipPath>
<g clip-path="url(#c4)">
<path d="M619.00,332.20 C619.65,332.20 619.02,332.10 622.90,332.20 C626.78,332.30 637.57,333.63 642.30,332.80 C647.03,331.97 648.28,328.57 651.30,327.20 C654.32,325.83 657.37,324.73 660.40,324.60 C663.43,324.47 666.72,325.22 669.50,326.40 C672.28,327.58 673.32,330.48 677.10,331.70 C680.88,332.92 687.92,333.57 692.20,333.70 C696.48,333.83 698.77,332.70 702.80,332.50 C706.83,332.30 713.53,332.50 716.40,332.50 C719.27,332.50 719.40,332.50 720.00,332.50" fill="none" stroke="#cc5500" stroke-width="5.8" stroke-linejoin="round" stroke-linecap="round"/>
<path d="M619.00,318.60 C619.65,318.60 616.50,318.55 622.90,318.60 C629.30,318.65 650.38,319.87 657.40,318.90 C664.42,317.93 662.23,314.12 665.00,312.80 C667.77,311.48 671.23,310.75 674.00,311.00 C676.77,311.25 678.82,313.12 681.60,314.30 C684.38,315.48 687.17,317.53 690.70,318.10 C694.23,318.67 699.53,317.52 702.80,317.70 C706.07,317.88 708.03,318.80 710.30,319.20 C712.57,319.60 714.78,319.95 716.40,320.10 C718.02,320.25 719.40,320.10 720.00,320.10" fill="none" stroke="#0a9a0a" stroke-width="5.8" stroke-linejoin="round" stroke-linecap="round"/>
<path d="M619.00,303.40 C619.65,303.40 619.53,303.35 622.90,303.40 C626.27,303.45 634.72,303.65 639.20,303.70 C643.68,303.75 646.52,304.20 649.80,303.70 C653.08,303.20 655.37,301.25 658.90,300.70 C662.43,300.15 667.22,299.90 671.00,300.40 C674.78,300.90 677.32,302.88 681.60,303.70 C685.88,304.52 690.90,304.92 696.70,305.30 C702.50,305.68 712.52,305.88 716.40,306.00 C720.28,306.12 719.40,306.00 720.00,306.00" fill="none" stroke="#0a1ad0" stroke-width="5.8" stroke-linejoin="round" stroke-linecap="round"/>
</g>
<line x1="627.26" y1="364.60" x2="627.26" y2="363.30" stroke="#333" stroke-width="1"/>
<line x1="632.10" y1="364.60" x2="632.10" y2="363.30" stroke="#333" stroke-width="1"/>
<line x1="636.94" y1="364.60" x2="636.94" y2="363.30" stroke="#333" stroke-width="1"/>
<line x1="641.78" y1="364.60" x2="641.78" y2="363.30" stroke="#333" stroke-width="1"/>
<line x1="646.62" y1="364.60" x2="646.62" y2="362.20" stroke="#333" stroke-width="1"/>
<line x1="651.46" y1="364.60" x2="651.46" y2="363.30" stroke="#333" stroke-width="1"/>
<line x1="656.30" y1="364.60" x2="656.30" y2="363.30" stroke="#333" stroke-width="1"/>
<line x1="661.14" y1="364.60" x2="661.14" y2="363.30" stroke="#333" stroke-width="1"/>
<line x1="665.98" y1="364.60" x2="665.98" y2="363.30" stroke="#333" stroke-width="1"/>
<line x1="670.82" y1="364.60" x2="670.82" y2="362.20" stroke="#333" stroke-width="1"/>
<line x1="675.66" y1="364.60" x2="675.66" y2="363.30" stroke="#333" stroke-width="1"/>
<line x1="680.50" y1="364.60" x2="680.50" y2="363.30" stroke="#333" stroke-width="1"/>
<line x1="685.34" y1="364.60" x2="685.34" y2="363.30" stroke="#333" stroke-width="1"/>
<line x1="690.18" y1="364.60" x2="690.18" y2="363.30" stroke="#333" stroke-width="1"/>
<line x1="695.02" y1="364.60" x2="695.02" y2="362.20" stroke="#333" stroke-width="1"/>
<line x1="699.86" y1="364.60" x2="699.86" y2="363.30" stroke="#333" stroke-width="1"/>
<line x1="704.70" y1="364.60" x2="704.70" y2="363.30" stroke="#333" stroke-width="1"/>
<line x1="709.54" y1="364.60" x2="709.54" y2="363.30" stroke="#333" stroke-width="1"/>
<line x1="714.38" y1="364.60" x2="714.38" y2="363.30" stroke="#333" stroke-width="1"/>
<text transform="translate(646.62,373.40) scale(0.950,1)" font-size="10.30" font-weight="bold" text-anchor="middle">41</text>
<text transform="translate(670.82,373.40) scale(0.950,1)" font-size="10.30" font-weight="bold" text-anchor="middle">42</text>
<text transform="translate(695.02,373.40) scale(0.950,1)" font-size="10.30" font-weight="bold" text-anchor="middle">43</text>
<clipPath id="clip_a5"><rect x="7.40" y="555.30" width="338.50" height="219.50"/></clipPath>
<path clip-path="url(#clip_a5)" d="M4.18,762.90 L8.21,762.90 L12.24,762.90 L16.27,762.90 L20.30,762.90 L20.94,762.90 L21.58,762.90 L22.23,762.90 L22.87,762.90 L23.52,762.90 L24.16,762.90 L24.81,762.90 L25.45,762.90 L26.10,762.90 L26.74,762.90 L27.39,762.90 L28.03,762.90 L28.68,762.90 L29.32,762.90 L29.97,762.90 L30.61,762.90 L31.26,762.90 L31.90,762.90 L32.55,762.90 L33.19,762.89 L33.84,762.88 L34.48,762.86 L35.12,762.82 L35.77,762.75 L36.41,762.62 L37.06,762.39 L37.70,762.02 L38.35,761.45 L38.99,760.61 L39.64,759.41 L40.28,757.77 L40.93,755.64 L41.57,752.97 L42.22,749.76 L42.86,746.04 L43.51,741.92 L44.15,737.52 L44.80,733.01 L45.44,728.57 L46.09,724.37 L46.73,720.57 L47.38,717.31 L48.02,714.66 L48.66,712.64 L49.31,711.25 L49.95,710.44 L50.60,710.08 L51.24,710.01 L51.89,710.07 L52.53,710.34 L53.18,710.98 L53.82,712.12 L54.47,713.86 L55.11,716.22 L55.76,719.22 L56.40,722.79 L57.05,726.84 L57.69,731.21 L58.34,735.75 L58.98,740.26 L59.63,744.57 L60.27,748.53 L60.92,752.03 L61.56,755.00 L62.20,757.43 L62.85,759.33 L63.49,760.77 L64.14,761.81 L64.78,762.53 L65.43,763.02 L66.07,763.34 L66.72,763.54 L67.36,763.66 L68.01,763.74 L68.65,763.80 L69.30,763.84 L69.94,763.87 L70.59,763.89 L71.23,763.92 L71.88,763.94 L72.52,763.97 L73.17,763.99 L73.81,764.01 L74.46,764.04 L75.10,764.06 L75.74,764.08 L76.39,764.10 L77.03,764.12 L77.68,764.14 L78.32,764.16 L78.97,764.18 L79.61,764.20 L80.26,764.22 L80.90,764.24 L81.55,764.26 L82.19,764.28 L82.84,764.30 L83.48,764.32 L84.13,764.34 L88.16,764.45 L92.19,764.55 L96.22,764.64 L100.25,764.72 L104.28,764.80 L108.31,764.87 L112.33,764.94 L116.36,765.00 L120.39,765.06 L124.42,765.11 L128.45,765.16 L132.48,765.20 L136.51,765.24 L140.54,765.28 L144.57,765.31 L148.60,765.34 L152.63,765.37 L156.66,765.40 L160.69,765.42 L164.72,765.44 L168.75,765.46 L172.78,765.48 L176.81,765.50 L180.84,765.52 L184.87,765.53 L188.90,765.54 L192.93,765.56 L196.96,765.57 L200.99,765.58 L205.02,765.59 L209.05,765.60 L213.08,765.61 L217.11,765.61 L221.14,765.62 L225.17,765.63 L229.20,765.63 L233.23,765.64 L237.26,765.64 L241.29,765.65 L245.32,765.65 L249.35,765.66 L253.38,765.66 L257.41,765.66 L261.44,765.67 L265.47,765.67 L269.50,765.67 L273.53,765.67 L277.56,765.67 L281.58,765.66 L285.61,765.56 L289.64,765.23 L293.67,765.10 L297.70,765.41 L301.73,765.64 L305.76,765.68 L309.79,765.69 L313.82,765.69 L317.85,765.69 L321.88,765.69 L325.91,765.69 L329.94,765.69 L333.97,765.69 L338.00,765.69 L342.03,765.69 L346.06,765.69 L350.09,765.69" fill="none" stroke="#05052a" stroke-width="5.0" stroke-linejoin="round"/>
<path clip-path="url(#clip_a5)" d="M4.18,715.30 L8.21,715.30 L12.24,715.30 L16.27,715.30 L20.30,715.30 L20.94,715.30 L21.58,715.30 L22.23,715.30 L22.87,715.30 L23.52,715.30 L24.16,715.30 L24.81,715.30 L25.45,715.30 L26.10,715.30 L26.74,715.30 L27.39,715.30 L28.03,715.30 L28.68,715.30 L29.32,715.30 L29.97,715.30 L30.61,715.30 L31.26,715.30 L31.90,715.30 L32.55,715.30 L33.19,715.30 L33.84,715.29 L34.48,715.28 L35.12,715.26 L35.77,715.22 L36.41,715.13 L37.06,714.98 L37.70,714.72 L38.35,714.29 L38.99,713.62 L39.64,712.61 L40.28,711.16 L40.93,709.17 L41.57,706.54 L42.22,703.22 L42.86,699.18 L43.51,694.47 L44.15,689.19 L44.80,683.49 L45.44,677.59 L46.09,671.71 L46.73,666.11 L47.38,660.98 L48.02,656.52 L48.66,652.83 L49.31,649.98 L49.95,648.01 L50.60,646.79 L51.24,646.19 L51.89,646.03 L52.53,646.09 L53.18,646.35 L53.82,647.06 L54.47,648.39 L55.11,650.47 L55.76,653.37 L56.40,657.10 L57.05,661.62 L57.69,666.79 L58.34,672.45 L58.98,678.37 L59.63,684.32 L60.27,690.06 L60.92,695.39 L61.56,700.14 L62.20,704.23 L62.85,707.59 L63.49,710.26 L64.14,712.30 L64.78,713.79 L65.43,714.84 L66.07,715.55 L66.72,716.02 L67.36,716.32 L68.01,716.51 L68.65,716.63 L69.30,716.72 L69.94,716.77 L70.59,716.82 L71.23,716.86 L71.88,716.90 L72.52,716.94 L73.17,716.97 L73.81,717.01 L74.46,717.04 L75.10,717.08 L75.74,717.11 L76.39,717.14 L77.03,717.18 L77.68,717.21 L78.32,717.24 L78.97,717.27 L79.61,717.30 L80.26,717.33 L80.90,717.36 L81.55,717.39 L82.19,717.42 L82.84,717.45 L83.48,717.48 L84.13,717.51 L84.77,717.53 L88.80,717.70 L92.83,717.85 L96.86,717.99 L100.89,718.12 L104.92,718.24 L108.95,718.35 L112.98,718.45 L117.01,718.54 L121.04,718.62 L125.07,718.70 L129.10,718.77 L133.13,718.84 L137.16,718.90 L141.19,718.96 L145.22,719.01 L149.25,719.06 L153.28,719.10 L157.31,719.14 L161.34,719.18 L165.37,719.21 L169.40,719.24 L173.43,719.27 L177.46,719.30 L181.49,719.32 L185.52,719.34 L189.55,719.36 L193.57,719.38 L197.60,719.40 L201.63,719.42 L205.66,719.43 L209.69,719.44 L213.72,719.46 L217.75,719.47 L221.78,719.48 L225.81,719.49 L229.84,719.50 L233.87,719.51 L237.90,719.51 L241.93,719.52 L245.96,719.53 L249.99,719.53 L254.02,719.54 L258.05,719.54 L262.08,719.55 L266.11,719.55 L270.14,719.56 L274.17,719.56 L278.20,719.56 L282.23,719.55 L286.26,719.41 L290.29,719.07 L294.32,719.02 L298.35,719.35 L302.38,719.55 L306.41,719.58 L310.44,719.58 L314.47,719.58 L318.50,719.58 L322.53,719.58 L326.56,719.59 L330.59,719.59 L334.62,719.59 L338.65,719.59 L342.68,719.59 L346.71,719.59 L350.74,719.59" fill="none" stroke="#0b0b9c" stroke-width="5.0" stroke-linejoin="round"/>
<path clip-path="url(#clip_a5)" d="M4.18,653.60 L8.21,653.60 L12.24,653.60 L16.27,653.60 L20.30,653.60 L20.94,653.60 L21.58,653.60 L22.23,653.60 L22.87,653.60 L23.52,653.60 L24.16,653.60 L24.81,653.60 L25.45,653.60 L26.10,653.60 L26.74,653.60 L27.39,653.60 L28.03,653.60 L28.68,653.60 L29.32,653.60 L29.97,653.60 L30.61,653.60 L31.26,653.60 L31.90,653.60 L32.55,653.60 L33.19,653.60 L33.84,653.59 L34.48,653.58 L35.12,653.55 L35.77,653.51 L36.41,653.42 L37.06,653.27 L37.70,653.01 L38.35,652.59 L38.99,651.96 L39.64,651.02 L40.28,649.71 L40.93,647.95 L41.57,645.66 L42.22,642.83 L42.86,639.47 L43.51,635.61 L44.15,631.38 L44.80,626.90 L45.44,622.35 L46.09,617.92 L46.73,613.78 L47.38,610.08 L48.02,606.94 L48.66,604.43 L49.31,602.56 L49.95,601.34 L50.60,600.65 L51.24,600.38 L51.89,600.36 L52.53,600.46 L53.18,600.81 L53.82,601.57 L54.47,602.87 L55.11,604.78 L55.76,607.33 L56.40,610.50 L57.05,614.24 L57.69,618.41 L58.34,622.88 L58.98,627.46 L59.63,631.97 L60.27,636.24 L60.92,640.13 L61.56,643.53 L62.20,646.39 L62.85,648.70 L63.49,650.50 L64.14,651.84 L64.78,652.81 L65.43,653.47 L66.07,653.92 L66.72,654.20 L67.36,654.39 L68.01,654.50 L68.65,654.58 L69.30,654.63 L69.94,654.67 L70.59,654.70 L71.23,654.73 L71.88,654.76 L72.52,654.78 L73.17,654.81 L73.81,654.83 L74.46,654.86 L75.10,654.88 L75.74,654.91 L76.39,654.93 L77.03,654.95 L77.68,654.98 L78.32,655.00 L78.97,655.02 L79.61,655.04 L80.26,655.07 L80.90,655.09 L81.55,655.11 L82.19,655.13 L82.84,655.15 L83.48,655.17 L84.13,655.19 L84.77,655.21 L88.80,655.33 L92.83,655.44 L96.86,655.54 L100.89,655.63 L104.92,655.72 L108.95,655.80 L112.98,655.87 L117.01,655.94 L121.04,656.00 L125.07,656.05 L129.10,656.10 L133.13,656.15 L137.16,656.20 L141.19,656.24 L145.22,656.27 L149.25,656.31 L153.28,656.34 L157.31,656.37 L161.34,656.39 L165.37,656.42 L169.40,656.44 L173.43,656.46 L177.46,656.48 L181.49,656.50 L185.52,656.51 L189.55,656.53 L193.57,656.54 L197.60,656.56 L201.63,656.57 L205.66,656.58 L209.69,656.59 L213.72,656.60 L217.75,656.60 L221.78,656.61 L225.81,656.62 L229.84,656.63 L233.87,656.63 L237.90,656.64 L241.93,656.64 L245.96,656.65 L249.99,656.65 L254.02,656.66 L258.05,656.66 L262.08,656.66 L266.11,656.66 L270.14,656.67 L274.17,656.67 L278.20,656.67 L282.23,656.66 L286.26,656.51 L290.29,656.18 L294.32,656.13 L298.35,656.46 L302.38,656.65 L306.41,656.68 L310.44,656.69 L314.47,656.69 L318.50,656.69 L322.53,656.69 L326.56,656.69 L330.59,656.69 L334.62,656.69 L338.65,656.69 L342.68,656.69 L346.71,656.69 L350.74,656.69" fill="none" stroke="#0a0af0" stroke-width="5.0" stroke-linejoin="round"/>
<rect x="265.30" y="654.10" width="62.06" height="119.10" fill="rgb(192,192,192)" fill-opacity="0.5" stroke="#ff8a8a" stroke-width="1.1"/>
<rect x="7.40" y="555.30" width="338.50" height="219.50" fill="none" stroke="#555" stroke-width="1.2"/>
<line x1="23.52" y1="774.80" x2="23.52" y2="771.20" stroke="#333" stroke-width="1"/>
<line x1="39.64" y1="774.80" x2="39.64" y2="773.00" stroke="#333" stroke-width="1"/>
<line x1="55.76" y1="774.80" x2="55.76" y2="773.00" stroke="#333" stroke-width="1"/>
<line x1="71.88" y1="774.80" x2="71.88" y2="773.00" stroke="#333" stroke-width="1"/>
<line x1="88.00" y1="774.80" x2="88.00" y2="773.00" stroke="#333" stroke-width="1"/>
<line x1="104.11" y1="774.80" x2="104.11" y2="771.20" stroke="#333" stroke-width="1"/>
<line x1="120.23" y1="774.80" x2="120.23" y2="773.00" stroke="#333" stroke-width="1"/>
<line x1="136.35" y1="774.80" x2="136.35" y2="773.00" stroke="#333" stroke-width="1"/>
<line x1="152.47" y1="774.80" x2="152.47" y2="773.00" stroke="#333" stroke-width="1"/>
<line x1="168.59" y1="774.80" x2="168.59" y2="773.00" stroke="#333" stroke-width="1"/>
<line x1="184.71" y1="774.80" x2="184.71" y2="771.20" stroke="#333" stroke-width="1"/>
<line x1="200.83" y1="774.80" x2="200.83" y2="773.00" stroke="#333" stroke-width="1"/>
<line x1="216.95" y1="774.80" x2="216.95" y2="773.00" stroke="#333" stroke-width="1"/>
<line x1="233.07" y1="774.80" x2="233.07" y2="773.00" stroke="#333" stroke-width="1"/>
<line x1="249.19" y1="774.80" x2="249.19" y2="773.00" stroke="#333" stroke-width="1"/>
<line x1="265.30" y1="774.80" x2="265.30" y2="771.20" stroke="#333" stroke-width="1"/>
<line x1="281.42" y1="774.80" x2="281.42" y2="773.00" stroke="#333" stroke-width="1"/>
<line x1="297.54" y1="774.80" x2="297.54" y2="773.00" stroke="#333" stroke-width="1"/>
<line x1="313.66" y1="774.80" x2="313.66" y2="773.00" stroke="#333" stroke-width="1"/>
<line x1="329.78" y1="774.80" x2="329.78" y2="773.00" stroke="#333" stroke-width="1"/>
<text transform="translate(23.52,786.60) scale(0.920,1)" font-size="11.60" font-weight="bold" text-anchor="middle">25</text>
<text transform="translate(104.11,786.60) scale(0.920,1)" font-size="11.60" font-weight="bold" text-anchor="middle">30</text>
<text transform="translate(184.71,786.60) scale(0.920,1)" font-size="11.60" font-weight="bold" text-anchor="middle">35</text>
<text transform="translate(265.30,786.60) scale(0.920,1)" font-size="11.60" font-weight="bold" text-anchor="middle">40</text>
<text transform="translate(345.90,786.60) scale(0.920,1)" font-size="11.60" font-weight="bold" text-anchor="middle">45</text>
<text transform="translate(104.40,811.90) scale(1.055,1)" font-size="18.60" font-weight="bold">2 Theta (degrees)</text>
<text transform="translate(10.70,584.17) scale(1.050,1)" font-size="25.90" font-weight="bold">(a<tspan font-size="17.7" dy="5.8">5</tspan><tspan dy="-5.8">)</tspan></text>
<path d="M72.85,565.15 L88.80,565.15 L91.00,567.80 L88.80,570.45 L72.85,570.45 A2.65,2.65 0 0 1 72.85,565.15 Z" fill="#05052a"/>
<text transform="translate(98.68,573.60) scale(1.075,1)" font-size="17.70" font-weight="bold">PS/BN-D<tspan font-size="15.5" dy="5.3">1</tspan></text>
<path d="M72.85,593.40 L88.80,593.40 L91.00,596.05 L88.80,598.70 L72.85,598.70 A2.65,2.65 0 0 1 72.85,593.40 Z" fill="#0b0b9c"/>
<text transform="translate(98.68,601.85) scale(1.075,1)" font-size="17.70" font-weight="bold">PS/BN-D<tspan font-size="15.5" dy="5.3">3</tspan></text>
<path d="M72.85,621.65 L88.80,621.65 L91.00,624.30 L88.80,626.95 L72.85,626.95 A2.65,2.65 0 0 1 72.85,621.65 Z" fill="#0a0af0"/>
<text transform="translate(98.68,630.10) scale(1.075,1)" font-size="17.70" font-weight="bold">PS/BN-D<tspan font-size="15.5" dy="5.3">5</tspan></text>
<rect x="249.40" y="558.30" width="92.30" height="81.30" fill="#fff" stroke="#444" stroke-width="1.2"/>
<clipPath id="c5"><rect x="249.40" y="558.30" width="92.30" height="81.30"/></clipPath>
<g clip-path="url(#c5)">
<path d="M245.00,605.20 C245.73,605.20 244.68,605.27 249.40,605.20 C254.12,605.13 267.55,605.80 273.30,604.80 C279.05,603.80 280.37,600.22 283.90,599.20 C287.43,598.18 291.23,598.07 294.50,598.70 C297.77,599.33 300.23,601.78 303.50,603.00 C306.77,604.22 309.55,605.55 314.10,606.00 C318.65,606.45 326.20,605.70 330.80,605.70 C335.40,605.70 339.33,605.95 341.70,606.00 C344.07,606.05 344.45,606.00 345.00,606.00" fill="none" stroke="#05052a" stroke-width="5.8" stroke-linejoin="round" stroke-linecap="round"/>
<path d="M245.00,592.40 C245.73,592.40 244.93,592.35 249.40,592.40 C253.87,592.45 265.80,593.58 271.80,592.70 C277.80,591.82 281.37,587.97 285.40,587.10 C289.43,586.23 292.73,586.75 296.00,587.50 C299.27,588.25 301.22,590.67 305.00,591.60 C308.78,592.53 314.40,592.92 318.70,593.10 C323.00,593.28 326.97,592.57 330.80,592.70 C334.63,592.83 339.33,593.70 341.70,593.90 C344.07,594.10 344.45,593.90 345.00,593.90" fill="none" stroke="#0b0b9c" stroke-width="5.8" stroke-linejoin="round" stroke-linecap="round"/>
<path d="M245.00,579.00 C245.73,579.00 244.43,579.17 249.40,579.00 C254.37,578.83 269.05,578.93 274.80,578.00 C280.55,577.07 281.13,574.17 283.90,573.40 C286.67,572.63 288.13,572.77 291.40,573.40 C294.67,574.03 299.47,576.18 303.50,577.20 C307.53,578.22 311.57,578.68 315.60,579.50 C319.63,580.32 323.35,581.72 327.70,582.10 C332.05,582.48 338.82,581.85 341.70,581.80 C344.58,581.75 344.45,581.80 345.00,581.80" fill="none" stroke="#0a0af0" stroke-width="5.8" stroke-linejoin="round" stroke-linecap="round"/>
</g>
<line x1="252.80" y1="639.60" x2="252.80" y2="638.30" stroke="#333" stroke-width="1"/>
<line x1="257.64" y1="639.60" x2="257.64" y2="638.30" stroke="#333" stroke-width="1"/>
<line x1="262.50" y1="639.60" x2="262.50" y2="638.30" stroke="#333" stroke-width="1"/>
<line x1="267.34" y1="639.60" x2="267.34" y2="638.30" stroke="#333" stroke-width="1"/>
<line x1="272.19" y1="639.60" x2="272.19" y2="637.20" stroke="#333" stroke-width="1"/>
<line x1="277.05" y1="639.60" x2="277.05" y2="638.30" stroke="#333" stroke-width="1"/>
<line x1="281.89" y1="639.60" x2="281.89" y2="638.30" stroke="#333" stroke-width="1"/>
<line x1="286.75" y1="639.60" x2="286.75" y2="638.30" stroke="#333" stroke-width="1"/>
<line x1="291.59" y1="639.60" x2="291.59" y2="638.30" stroke="#333" stroke-width="1"/>
<line x1="296.44" y1="639.60" x2="296.44" y2="637.20" stroke="#333" stroke-width="1"/>
<line x1="301.30" y1="639.60" x2="301.30" y2="638.30" stroke="#333" stroke-width="1"/>
<line x1="306.14" y1="639.60" x2="306.14" y2="638.30" stroke="#333" stroke-width="1"/>
<line x1="311.00" y1="639.60" x2="311.00" y2="638.30" stroke="#333" stroke-width="1"/>
<line x1="315.84" y1="639.60" x2="315.84" y2="638.30" stroke="#333" stroke-width="1"/>
<line x1="320.69" y1="639.60" x2="320.69" y2="637.20" stroke="#333" stroke-width="1"/>
<line x1="325.55" y1="639.60" x2="325.55" y2="638.30" stroke="#333" stroke-width="1"/>
<line x1="330.39" y1="639.60" x2="330.39" y2="638.30" stroke="#333" stroke-width="1"/>
<line x1="335.25" y1="639.60" x2="335.25" y2="638.30" stroke="#333" stroke-width="1"/>
<line x1="340.09" y1="639.60" x2="340.09" y2="638.30" stroke="#333" stroke-width="1"/>
<text transform="translate(272.19,649.10) scale(0.950,1)" font-size="10.30" font-weight="bold" text-anchor="middle">41</text>
<text transform="translate(296.44,649.10) scale(0.950,1)" font-size="10.30" font-weight="bold" text-anchor="middle">42</text>
<text transform="translate(320.69,649.10) scale(0.950,1)" font-size="10.30" font-weight="bold" text-anchor="middle">43</text>
<rect x="436.50" y="553.10" width="283.00" height="246.90" fill="url(#bgb)"/>
<rect x="442.90" y="796.05" width="14.10" height="3.95" fill="url(#gpink)"/>
<rect x="457.00" y="777.95" width="14.10" height="22.05" fill="url(#gred)"/>
<rect x="471.10" y="757.87" width="14.10" height="42.13" fill="url(#gorg)"/>
<rect x="485.20" y="736.15" width="14.10" height="63.85" fill="url(#ggold)"/>
<rect x="513.60" y="796.05" width="14.10" height="3.95" fill="url(#gpink)"/>
<rect x="527.70" y="768.07" width="14.10" height="31.93" fill="url(#gred)"/>
<rect x="541.80" y="755.24" width="14.10" height="44.76" fill="url(#gorg)"/>
<rect x="555.90" y="707.35" width="14.10" height="92.65" fill="url(#ggold)"/>
<rect x="584.10" y="796.05" width="14.10" height="3.95" fill="url(#gpink)"/>
<rect x="598.20" y="765.93" width="14.10" height="34.07" fill="url(#gred)"/>
<rect x="612.30" y="749.15" width="14.10" height="50.85" fill="url(#gorg)"/>
<rect x="626.40" y="571.08" width="14.10" height="228.92" fill="url(#ggold)"/>
<rect x="654.90" y="796.05" width="14.10" height="3.95" fill="url(#gpink)"/>
<rect x="669.00" y="719.03" width="14.10" height="80.97" fill="url(#gred)"/>
<rect x="683.10" y="744.38" width="14.10" height="55.62" fill="url(#gorg)"/>
<rect x="697.20" y="579.64" width="14.10" height="220.36" fill="url(#ggold)"/>
<rect x="436.50" y="553.10" width="283.00" height="246.90" fill="none" stroke="#444" stroke-width="1.2"/>
<line x1="436.50" y1="800.00" x2="439.70" y2="800.00" stroke="#333" stroke-width="1"/>
<text transform="translate(429.1,797.90) rotate(-90)" font-size="11.6" font-weight="bold" text-anchor="middle">0</text>
<line x1="436.50" y1="783.54" x2="438.30" y2="783.54" stroke="#333" stroke-width="1"/>
<line x1="436.50" y1="767.09" x2="439.70" y2="767.09" stroke="#333" stroke-width="1"/>
<text transform="translate(429.1,764.99) rotate(-90)" font-size="11.6" font-weight="bold" text-anchor="middle">200</text>
<line x1="436.50" y1="750.63" x2="438.30" y2="750.63" stroke="#333" stroke-width="1"/>
<line x1="436.50" y1="734.17" x2="439.70" y2="734.17" stroke="#333" stroke-width="1"/>
<text transform="translate(429.1,732.07) rotate(-90)" font-size="11.6" font-weight="bold" text-anchor="middle">400</text>
<line x1="436.50" y1="717.72" x2="438.30" y2="717.72" stroke="#333" stroke-width="1"/>
<line x1="436.50" y1="701.26" x2="439.70" y2="701.26" stroke="#333" stroke-width="1"/>
<text transform="translate(429.1,699.16) rotate(-90)" font-size="11.6" font-weight="bold" text-anchor="middle">600</text>
<line x1="436.50" y1="684.80" x2="438.30" y2="684.80" stroke="#333" stroke-width="1"/>
<line x1="436.50" y1="668.34" x2="439.70" y2="668.34" stroke="#333" stroke-width="1"/>
<text transform="translate(429.1,666.24) rotate(-90)" font-size="11.6" font-weight="bold" text-anchor="middle">800</text>
<line x1="436.50" y1="651.89" x2="438.30" y2="651.89" stroke="#333" stroke-width="1"/>
<line x1="436.50" y1="635.43" x2="439.70" y2="635.43" stroke="#333" stroke-width="1"/>
<text transform="translate(429.1,633.33) rotate(-90)" font-size="11.6" font-weight="bold" text-anchor="middle">1000</text>
<line x1="436.50" y1="618.97" x2="438.30" y2="618.97" stroke="#333" stroke-width="1"/>
<line x1="436.50" y1="602.52" x2="439.70" y2="602.52" stroke="#333" stroke-width="1"/>
<text transform="translate(429.1,600.42) rotate(-90)" font-size="11.6" font-weight="bold" text-anchor="middle">1200</text>
<line x1="436.50" y1="586.06" x2="438.30" y2="586.06" stroke="#333" stroke-width="1"/>
<line x1="436.50" y1="569.60" x2="439.70" y2="569.60" stroke="#333" stroke-width="1"/>
<text transform="translate(429.1,567.50) rotate(-90)" font-size="11.6" font-weight="bold" text-anchor="middle">1400</text>
<rect x="456.0" y="569.30" width="41.8" height="19.80" fill="url(#gpink)"/>
<text transform="translate(504.10,587.70) scale(1.030,1)" font-size="20.70">PS/BN</text>
<rect x="456.0" y="597.00" width="41.8" height="18.70" fill="url(#gred)"/>
<text x="504.10" y="614.60" font-size="20.70">1</text>
<rect x="456.0" y="623.70" width="41.8" height="18.90" fill="url(#gorg)"/>
<text x="504.10" y="641.10" font-size="20.70">3</text>
<rect x="456.0" y="650.10" width="41.8" height="19.60" fill="url(#ggold)"/>
<text x="504.10" y="667.50" font-size="20.70">5</text>
<text transform="translate(375.60,583.30) scale(1.020,1)" font-size="26.60" font-weight="bold">(b)</text>
<text transform="translate(408.0,719.5) rotate(-90) scale(1.215,1)" font-size="16.6" font-weight="bold">I<tspan font-size="12.3" dy="2.6">(002)</tspan><tspan dy="-2.6">/I</tspan><tspan font-size="12.3" dy="2.6">(100)</tspan></text>
<text x="470.80" y="813.60" font-size="13.30" font-weight="bold" text-anchor="middle">PS/BN-A</text>
<text x="541.60" y="813.60" font-size="13.30" font-weight="bold" text-anchor="middle">PS/BN-B</text>
<text x="612.60" y="813.60" font-size="13.30" font-weight="bold" text-anchor="middle">PS/BN-C</text>
<text x="683.40" y="813.60" font-size="13.30" font-weight="bold" text-anchor="middle">PS/BN-D</text>
</svg></body></html>
